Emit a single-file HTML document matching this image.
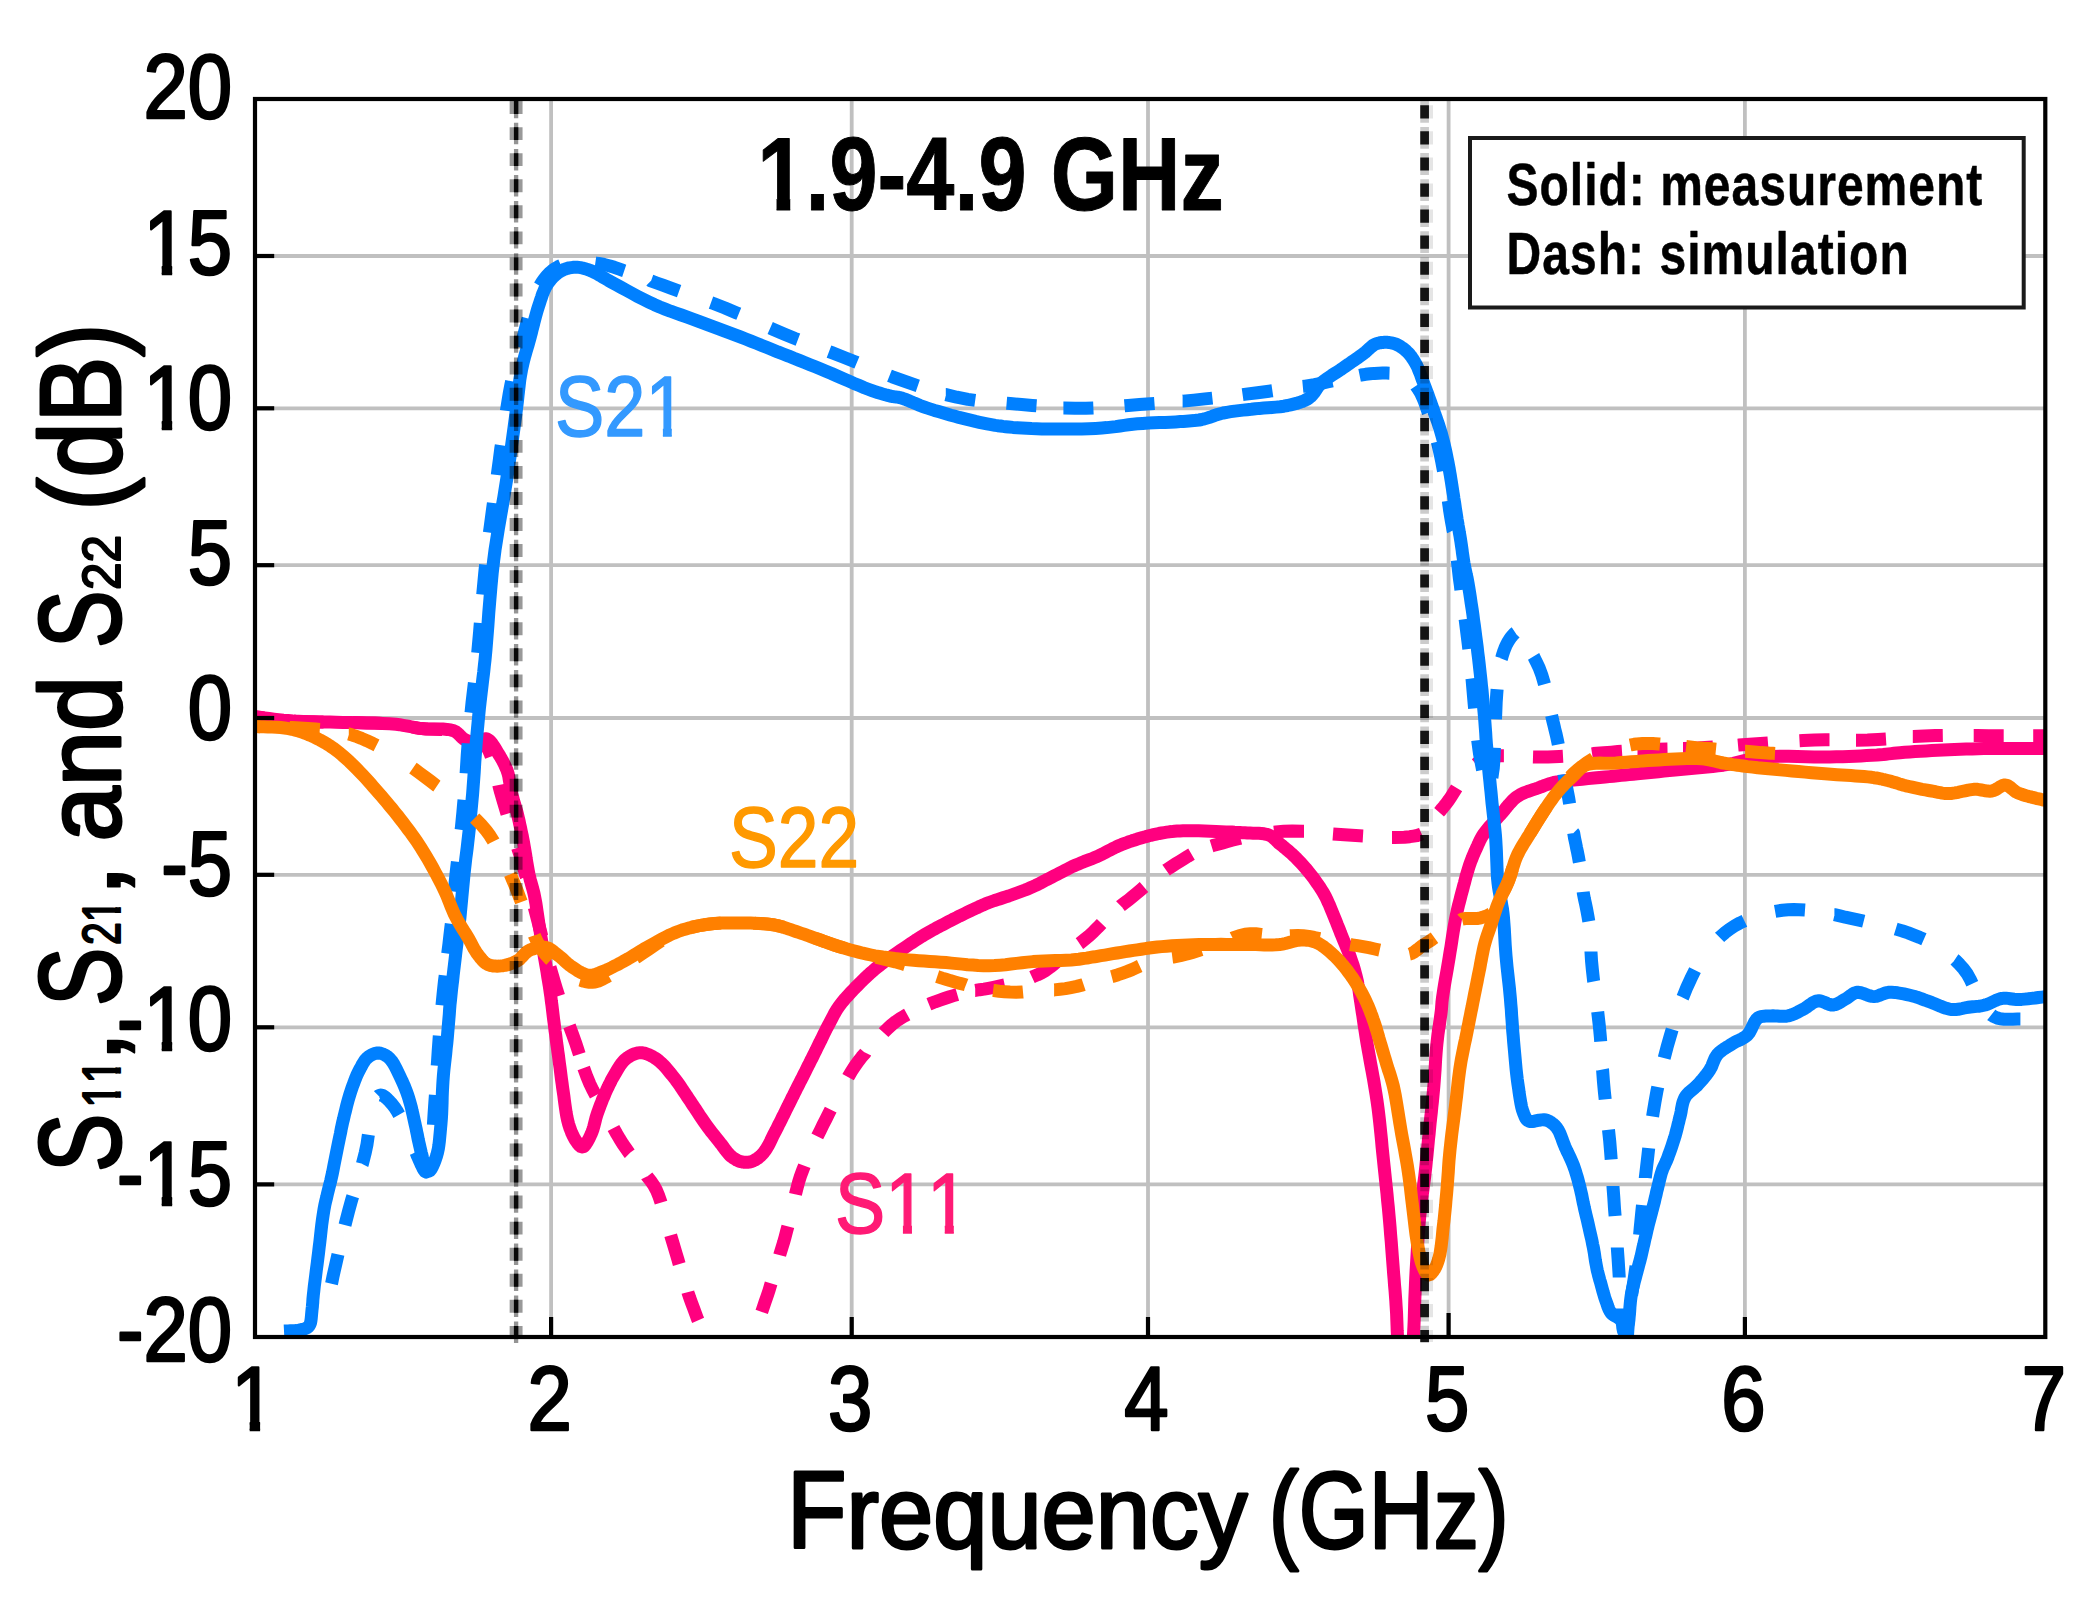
<!DOCTYPE html>
<html lang="en"><head><meta charset="utf-8"><title>S-parameters 1.9-4.9 GHz</title>
<style>html,body{margin:0;padding:0;background:#fff}body{width:2098px;height:1612px;overflow:hidden}svg{display:block}text{font-family:"Liberation Sans",sans-serif}</style>
</head><body>
<svg width="2098" height="1612" viewBox="0 0 2098 1612">
<rect x="0" y="0" width="2098" height="1612" fill="#ffffff"/>
<defs><clipPath id="plot"><rect x="255" y="99" width="1790.3" height="1238"/></clipPath></defs>
<g stroke="#c0c0c0" stroke-width="3.8" fill="none">
<line x1="551.1" y1="99" x2="551.1" y2="1337"/>
<line x1="851.7" y1="99" x2="851.7" y2="1337"/>
<line x1="1148" y1="99" x2="1148" y2="1337"/>
<line x1="1448.6" y1="99" x2="1448.6" y2="1337"/>
<line x1="1744.9" y1="99" x2="1744.9" y2="1337"/>
<line x1="255" y1="256" x2="2045.3" y2="256"/>
<line x1="255" y1="408.3" x2="2045.3" y2="408.3"/>
<line x1="255" y1="565.2" x2="2045.3" y2="565.2"/>
<line x1="255" y1="718" x2="2045.3" y2="718"/>
<line x1="255" y1="874.8" x2="2045.3" y2="874.8"/>
<line x1="255" y1="1027.3" x2="2045.3" y2="1027.3"/>
<line x1="255" y1="1184.4" x2="2045.3" y2="1184.4"/>
</g>
<g clip-path="url(#plot)" fill="none" stroke-width="13" stroke-linejoin="round">
<path d="M255.0,716.8 L257.4,717.1 L264.2,717.9M293.5,721.0 L295.6,721.2 L303.3,721.5 L311.2,721.7 L319.1,721.9 L323.5,721.9M353.0,722.6 L354.7,722.6 L366.8,722.9 L378.7,723.2 L383.0,723.4M412.2,727.0 L412.2,727.0 L416.7,727.9 L421.6,728.6 L427.6,729.1 L433.9,729.2 L440.3,729.4 L442.0,729.4M469.9,737.9 L470.0,738.0 L472.9,739.2 L476.0,740.2 L478.9,741.3 L481.7,742.6 L484.2,744.3 L486.6,746.9 L488.6,750.2 L490.3,754.0 L491.2,756.5M498.8,785.0 L499.1,786.6 L500.6,792.3 L502.7,799.5 L505.0,807.1 L507.0,813.8M517.6,847.7 L517.6,847.7 L519.5,853.6 L521.4,859.8 L523.6,867.5 L526.0,876.2 L526.1,876.4M534.3,907.3 L535.0,910.0 L537.4,919.4 L539.9,928.9 L541.8,936.3M550.0,967.2 L550.2,967.8 L552.4,975.4 L554.6,982.8 L556.8,990.1 L558.7,995.9M569.4,1025.9 L570.0,1027.4 L572.8,1034.9 L575.5,1042.6 L578.1,1050.6 L579.3,1054.2M583.7,1068.0 L584.2,1069.4 L587.0,1077.1 L589.9,1084.0 L592.8,1090.0 L595.7,1095.4M613.5,1128.0 L613.8,1128.6 L616.8,1134.0 L619.9,1139.3 L623.0,1144.2 L626.2,1148.8 L629.3,1153.2 L629.5,1153.4M647.1,1176.3 L647.2,1176.5 L650.6,1180.8 L653.8,1185.4 L656.5,1190.4 L658.8,1196.0 L660.8,1201.9 L661.0,1202.6M670.7,1235.3 L671.1,1236.7 L672.8,1242.3 L674.4,1247.8 L676.1,1253.5 L677.8,1259.2 L679.2,1264.1M687.9,1292.1 L688.2,1293.2 L689.8,1298.1 L691.6,1303.0 L693.5,1308.1 L695.6,1313.7 L697.7,1319.4 L698.1,1320.3M718.9,1351.4 L719.1,1351.5 L721.4,1352.8 L723.6,1353.9 L726.0,1354.6 L728.2,1355.0 L730.5,1354.9 L732.8,1354.4 L735.2,1353.6 L737.4,1352.4 L739.6,1351.0 L741.8,1349.3 L744.0,1347.1 L745.2,1345.8M761.7,1311.9 L762.5,1309.6 L765.0,1302.2 L767.2,1295.9 L769.0,1290.5 L770.5,1285.4 L771.1,1283.4M779.7,1255.2 L780.1,1253.7 L781.8,1248.2 L783.5,1242.7 L785.1,1237.0 L786.6,1231.2 L787.9,1226.3M795.5,1194.3 L795.8,1192.9 L797.2,1187.3 L798.7,1181.7 L800.5,1176.0 L802.6,1170.4 L804.4,1165.7M817.3,1136.4 L818.1,1134.8 L820.6,1129.8 L823.1,1124.7 L825.9,1119.2 L828.8,1113.4 L830.7,1109.6M848.1,1077.2 L848.7,1076.1 L851.7,1071.0 L854.9,1066.1 L858.2,1061.5 L861.6,1057.1 L865.2,1052.9 L865.3,1052.7M883.6,1032.7 L884.5,1031.7 L888.1,1028.1 L891.9,1024.6 L895.9,1021.5 L900.1,1018.6 L904.5,1016.0 L907.2,1014.5M928.9,1004.2 L930.4,1003.6 L935.1,1001.8 L939.9,1000.1 L944.5,998.5 L949.0,997.0 L953.5,995.6 L957.3,994.5M975.2,990.4 L975.5,990.4 L979.7,989.7 L984.1,989.1 L988.5,988.3 L993.6,987.3 L999.2,986.1 L1004.7,984.9M1032.0,977.1 L1033.3,976.5 L1037.5,974.8 L1041.6,972.8 L1045.9,970.3 L1050.0,967.3 L1054.1,964.1 L1057.3,961.4M1079.5,943.6 L1079.8,943.4 L1084.7,939.4 L1089.5,935.4 L1093.8,931.4 L1097.8,927.4 L1101.6,923.4M1120.7,905.9 L1120.9,905.7 L1124.8,902.8 L1128.7,899.8 L1132.6,896.7 L1136.7,893.3 L1140.9,889.7 L1144.0,887.0M1166.1,870.1 L1166.8,869.6 L1171.3,866.7 L1175.8,863.8 L1180.0,861.2 L1184.0,858.7 L1187.9,856.3 L1191.5,854.2M1211.5,846.0 L1212.8,845.6 L1217.8,844.2 L1222.8,842.9 L1227.5,841.6 L1231.9,840.3 L1236.2,839.2 L1240.5,838.1M1274.0,832.1 L1275.9,831.9 L1283.7,831.3 L1292.3,830.9 L1302.9,831.3 L1304.0,831.3M1333.0,833.9 L1336.8,834.2 L1348.0,835.0 L1359.6,835.7 L1363.0,835.9M1392.0,837.5 L1394.7,837.5 L1404.3,837.3 L1409.8,836.7 L1413.6,836.1 L1417.1,835.5 L1420.2,834.5 L1421.6,833.9M1439.1,812.2 L1439.9,811.3 L1442.0,808.7 L1444.2,806.1 L1446.3,803.4 L1448.5,800.5 L1451.0,796.9 L1453.5,792.9 L1456.0,788.9 L1456.6,787.9M1476.0,764.2 L1476.6,763.7 L1478.8,761.9 L1481.1,760.3 L1483.7,758.9 L1486.7,757.7 L1491.5,756.5 L1500.8,755.7 L1503.9,755.7M1533.0,756.9 L1536.3,757.0 L1548.0,757.0 L1559.3,756.4 L1563.0,756.2M1592.1,753.8 L1593.4,753.6 L1603.8,752.8 L1611.5,752.1 L1617.7,751.6 L1622.0,751.3M1637.5,750.1 L1637.7,750.1 L1646.5,749.7 L1657.0,749.3 L1667.5,749.1M1683.0,748.6 L1683.2,748.6 L1694.4,748.2 L1704.9,747.6 L1713.0,747.1M1738.0,745.1 L1739.1,745.0 L1749.5,744.2 L1760.5,743.5 L1768.0,742.9M1799.5,740.7 L1803.1,740.5 L1814.5,740.0 L1825.2,739.8 L1829.5,739.8M1856.0,740.2 L1856.9,740.2 L1867.5,740.1 L1878.1,739.6 L1886.0,739.1M1912.8,736.6 L1913.5,736.6 L1924.2,735.9 L1935.3,735.5 L1942.8,735.4M1973.7,735.6 L1977.4,735.6 L1988.7,735.7 L1999.4,735.7 L2003.7,735.7M2033.2,735.7 L2034.7,735.7 L2045.3,735.7" stroke="#ff007f"/>
<path d="M255.0,716.8 L259.7,717.3 L264.4,717.9 L269.1,718.5 L273.9,719.1 L278.6,719.6 L283.3,720.2 L288.1,720.6 L293.0,721.0 L298.2,721.3 L303.3,721.5 L308.5,721.7 L313.8,721.8 L319.1,721.9 L324.5,721.9 L330.1,722.0 L335.8,722.2 L343.0,722.4 L350.7,722.5 L358.7,722.7 L366.8,722.9 L374.8,723.1 L382.4,723.4 L389.5,723.8 L395.9,724.3 L399.6,724.7 L403.0,725.3 L406.2,725.8 L409.2,726.4 L412.2,727.0 L415.2,727.6 L418.3,728.2 L421.6,728.6 L425.6,728.9 L429.8,729.0 L434.2,729.0 L438.7,729.0 L443.0,729.1 L447.0,729.4 L450.7,729.9 L453.8,730.8 L455.5,731.6 L457.0,732.7 L458.4,733.9 L459.6,735.1 L460.8,736.4 L461.9,737.5 L463.2,738.6 L464.5,739.4 L465.8,740.0 L467.0,740.5 L468.3,741.0 L469.6,741.3 L471.0,741.6 L472.3,741.8 L473.6,742.0 L475.0,742.0 L476.5,741.8 L478.0,741.4 L479.5,740.7 L481.1,740.0 L482.6,739.4 L484.1,738.9 L485.6,738.8 L487.0,739.0 L488.7,739.9 L490.3,741.3 L491.8,743.1 L493.3,745.3 L494.8,747.6 L496.2,749.9 L497.5,752.2 L498.8,754.4 L500.1,756.4 L501.3,758.5 L502.5,760.6 L503.6,762.7 L504.6,764.8 L505.6,767.0 L506.6,769.2 L507.4,771.5 L508.2,774.0 L508.8,776.6 L509.2,779.3 L509.7,782.1 L510.1,784.8 L510.5,787.6 L510.9,790.3 L511.5,793.0 L512.2,795.7 L512.9,798.3 L513.6,800.9 L514.4,803.5 L515.2,806.2 L516.0,808.8 L516.8,811.6 L517.5,814.4 L518.3,817.7 L519.1,821.1 L519.8,824.5 L520.6,828.0 L521.3,831.5 L522.1,835.1 L522.8,838.7 L523.5,842.3 L524.2,846.3 L524.9,850.3 L525.6,854.5 L526.2,858.7 L526.9,862.8 L527.6,866.9 L528.3,870.8 L529.0,874.5 L529.7,877.4 L530.3,880.1 L531.1,882.7 L531.8,885.3 L532.5,887.8 L533.2,890.4 L533.9,893.1 L534.5,896.0 L535.2,899.7 L535.9,903.5 L536.5,907.5 L537.1,911.6 L537.7,915.7 L538.3,919.8 L538.9,923.9 L539.5,928.0 L540.2,932.0 L540.8,936.1 L541.5,940.1 L542.2,944.1 L542.9,948.2 L543.6,952.2 L544.3,956.3 L545.0,960.3 L545.7,964.4 L546.4,968.4 L547.1,972.5 L547.7,976.6 L548.4,980.7 L549.1,984.8 L549.7,988.9 L550.3,993.0 L550.9,997.2 L551.4,1001.5 L552.0,1005.7 L552.5,1010.0 L553.0,1014.3 L553.5,1018.5 L554.1,1022.8 L554.6,1027.0 L555.1,1031.1 L555.7,1035.1 L556.2,1039.2 L556.7,1043.2 L557.3,1047.2 L557.8,1051.2 L558.4,1055.3 L558.9,1059.3 L559.4,1063.3 L560.0,1067.4 L560.5,1071.4 L561.0,1075.4 L561.5,1079.4 L562.1,1083.5 L562.6,1087.5 L563.2,1091.5 L563.8,1095.6 L564.3,1099.8 L564.9,1104.1 L565.5,1108.3 L566.1,1112.4 L566.8,1116.4 L567.6,1120.2 L568.5,1123.7 L569.3,1126.2 L570.1,1128.7 L571.0,1131.0 L571.9,1133.3 L572.9,1135.4 L573.9,1137.4 L574.9,1139.3 L576.0,1140.9 L576.8,1142.0 L577.5,1143.1 L578.4,1144.1 L579.2,1145.1 L580.0,1145.9 L580.8,1146.5 L581.7,1146.9 L582.5,1147.0 L583.6,1146.6 L584.7,1145.6 L585.8,1144.2 L586.9,1142.4 L588.0,1140.5 L589.1,1138.4 L590.1,1136.4 L591.0,1134.4 L592.0,1132.0 L592.9,1129.5 L593.7,1126.9 L594.4,1124.1 L595.1,1121.3 L595.8,1118.5 L596.6,1115.7 L597.5,1113.0 L598.5,1110.3 L599.5,1107.5 L600.5,1104.8 L601.6,1102.1 L602.6,1099.3 L603.8,1096.7 L604.9,1094.0 L606.0,1091.5 L607.0,1089.2 L608.1,1087.0 L609.1,1084.8 L610.2,1082.7 L611.2,1080.6 L612.3,1078.5 L613.5,1076.4 L614.7,1074.4 L615.9,1072.4 L617.1,1070.3 L618.3,1068.2 L619.6,1066.2 L620.9,1064.3 L622.3,1062.5 L623.8,1060.8 L625.4,1059.3 L627.0,1058.0 L628.7,1056.9 L630.5,1055.8 L632.4,1054.8 L634.2,1054.0 L636.2,1053.3 L638.1,1052.9 L640.0,1052.7 L642.0,1052.8 L644.1,1053.1 L646.2,1053.7 L648.3,1054.5 L650.4,1055.4 L652.5,1056.5 L654.5,1057.7 L656.5,1059.0 L658.8,1060.7 L661.0,1062.7 L663.3,1064.9 L665.4,1067.2 L667.6,1069.7 L669.6,1072.3 L671.7,1074.8 L673.7,1077.3 L675.7,1079.8 L677.6,1082.4 L679.5,1085.1 L681.3,1087.7 L683.1,1090.5 L685.0,1093.2 L686.8,1096.0 L688.7,1098.8 L690.8,1101.9 L692.9,1105.2 L695.1,1108.4 L697.3,1111.8 L699.4,1115.1 L701.6,1118.3 L703.8,1121.5 L705.9,1124.5 L707.8,1127.1 L709.7,1129.7 L711.6,1132.2 L713.6,1134.6 L715.5,1137.0 L717.3,1139.3 L719.1,1141.6 L720.9,1143.8 L722.3,1145.6 L723.6,1147.4 L724.9,1149.2 L726.2,1150.9 L727.5,1152.5 L728.8,1154.0 L730.2,1155.5 L731.6,1156.7 L732.9,1157.7 L734.2,1158.5 L735.5,1159.3 L736.8,1160.1 L738.2,1160.7 L739.5,1161.3 L740.9,1161.7 L742.3,1162.0 L743.6,1162.2 L745.0,1162.3 L746.3,1162.3 L747.7,1162.3 L749.0,1162.1 L750.4,1161.8 L751.7,1161.5 L753.0,1161.0 L754.4,1160.3 L755.8,1159.5 L757.2,1158.6 L758.6,1157.6 L760.0,1156.4 L761.3,1155.2 L762.6,1153.8 L763.8,1152.4 L765.3,1150.4 L766.7,1148.2 L768.1,1145.9 L769.4,1143.4 L770.7,1140.8 L771.9,1138.2 L773.2,1135.5 L774.5,1133.0 L775.9,1130.4 L777.2,1127.8 L778.5,1125.1 L779.9,1122.4 L781.2,1119.8 L782.5,1117.1 L783.9,1114.4 L785.2,1111.7 L786.5,1109.0 L787.9,1106.3 L789.2,1103.6 L790.6,1100.8 L791.9,1098.1 L793.3,1095.4 L794.6,1092.7 L796.0,1090.0 L797.3,1087.3 L798.7,1084.7 L800.0,1082.0 L801.4,1079.4 L802.7,1076.8 L804.0,1074.1 L805.4,1071.5 L806.7,1068.8 L808.0,1066.1 L809.4,1063.4 L810.7,1060.7 L812.1,1058.1 L813.4,1055.4 L814.7,1052.7 L816.1,1050.0 L817.4,1047.3 L818.7,1044.6 L820.0,1041.9 L821.4,1039.2 L822.7,1036.5 L824.0,1033.8 L825.3,1031.2 L826.6,1028.5 L828.0,1025.9 L829.3,1023.4 L830.6,1020.9 L831.9,1018.4 L833.2,1016.0 L834.5,1013.5 L835.9,1011.2 L837.3,1008.8 L838.8,1006.6 L840.3,1004.6 L841.8,1002.6 L843.4,1000.7 L845.0,998.8 L846.6,997.0 L848.3,995.2 L850.0,993.3 L851.7,991.5 L853.5,989.6 L855.3,987.7 L857.2,985.8 L859.1,983.9 L861.0,982.0 L862.9,980.1 L864.8,978.3 L866.7,976.5 L868.5,974.8 L870.3,973.2 L872.1,971.6 L874.0,970.0 L875.8,968.4 L877.7,966.9 L879.7,965.3 L881.7,963.7 L884.2,961.8 L886.8,959.9 L889.4,958.0 L892.2,956.1 L894.9,954.2 L897.7,952.3 L900.5,950.4 L903.2,948.6 L905.9,946.8 L908.5,945.0 L911.2,943.2 L913.9,941.5 L916.5,939.7 L919.2,938.0 L921.9,936.3 L924.6,934.7 L927.3,933.1 L929.9,931.6 L932.6,930.1 L935.3,928.7 L937.9,927.2 L940.6,925.8 L943.3,924.4 L946.0,923.0 L948.7,921.6 L951.4,920.2 L954.0,918.8 L956.7,917.5 L959.4,916.1 L962.1,914.8 L964.8,913.5 L967.5,912.2 L970.2,910.9 L972.8,909.7 L975.5,908.4 L978.2,907.2 L980.9,905.9 L983.6,904.7 L986.3,903.6 L989.0,902.5 L991.8,901.5 L994.6,900.5 L997.4,899.6 L1000.2,898.7 L1003.0,897.8 L1005.8,896.9 L1008.6,896.0 L1011.4,895.0 L1014.1,894.0 L1016.9,893.0 L1019.6,892.0 L1022.3,891.0 L1025.0,890.0 L1027.7,888.9 L1030.3,887.8 L1033.0,886.6 L1035.7,885.4 L1038.4,884.1 L1041.0,882.7 L1043.7,881.3 L1046.3,879.9 L1049.0,878.6 L1051.6,877.2 L1054.3,875.8 L1057.0,874.4 L1059.7,873.0 L1062.3,871.7 L1065.0,870.3 L1067.7,868.9 L1070.4,867.5 L1073.1,866.2 L1075.8,865.0 L1078.5,863.9 L1081.2,862.8 L1083.9,861.7 L1086.6,860.7 L1089.3,859.7 L1091.9,858.7 L1094.6,857.6 L1097.3,856.5 L1100.0,855.2 L1102.7,853.9 L1105.3,852.5 L1108.0,851.1 L1110.7,849.7 L1113.3,848.3 L1116.0,847.0 L1118.7,845.8 L1121.3,844.7 L1124.0,843.7 L1126.6,842.7 L1129.3,841.7 L1132.0,840.8 L1134.6,840.0 L1137.3,839.1 L1140.0,838.3 L1142.7,837.5 L1145.4,836.8 L1148.1,836.0 L1150.8,835.3 L1153.5,834.7 L1156.2,834.1 L1158.9,833.5 L1161.6,833.0 L1164.2,832.6 L1166.8,832.2 L1169.3,831.8 L1171.8,831.6 L1174.4,831.3 L1177.1,831.1 L1180.0,830.9 L1183.0,830.8 L1187.8,830.7 L1193.0,830.7 L1198.7,830.8 L1204.5,831.0 L1210.3,831.2 L1215.9,831.5 L1221.2,831.7 L1226.0,831.9 L1229.0,832.0 L1231.9,832.1 L1234.6,832.3 L1237.2,832.4 L1239.7,832.5 L1242.2,832.7 L1244.8,832.8 L1247.4,833.0 L1250.1,833.1 L1253.0,833.2 L1255.8,833.3 L1258.7,833.3 L1261.4,833.5 L1264.1,833.8 L1266.5,834.3 L1268.8,835.0 L1270.4,835.8 L1271.9,836.7 L1273.2,837.7 L1274.5,838.8 L1275.7,840.0 L1276.9,841.2 L1278.2,842.5 L1279.6,843.7 L1281.4,845.1 L1283.2,846.6 L1285.1,848.1 L1287.0,849.7 L1288.9,851.3 L1290.8,853.0 L1292.7,854.7 L1294.6,856.5 L1296.8,858.7 L1299.0,861.0 L1301.2,863.3 L1303.4,865.8 L1305.6,868.3 L1307.7,870.8 L1309.7,873.3 L1311.7,875.8 L1313.5,878.1 L1315.2,880.5 L1316.9,882.9 L1318.6,885.3 L1320.2,887.7 L1321.7,890.1 L1323.2,892.5 L1324.6,895.0 L1325.9,897.4 L1327.0,899.8 L1328.1,902.2 L1329.2,904.6 L1330.2,907.0 L1331.2,909.4 L1332.2,911.9 L1333.2,914.4 L1334.3,917.0 L1335.4,919.7 L1336.5,922.4 L1337.5,925.1 L1338.6,927.8 L1339.7,930.5 L1340.7,933.2 L1341.8,935.9 L1342.9,938.6 L1344.0,941.2 L1345.1,943.9 L1346.2,946.6 L1347.3,949.2 L1348.4,951.9 L1349.4,954.6 L1350.4,957.3 L1351.3,960.0 L1352.2,962.6 L1353.1,965.2 L1353.9,967.9 L1354.7,970.6 L1355.4,973.3 L1356.1,976.0 L1356.8,978.8 L1357.5,981.8 L1358.0,984.9 L1358.6,987.9 L1359.1,991.0 L1359.5,994.2 L1360.0,997.4 L1360.5,1000.7 L1361.0,1004.0 L1361.6,1008.0 L1362.2,1012.1 L1362.9,1016.3 L1363.5,1020.6 L1364.1,1024.9 L1364.8,1029.1 L1365.4,1033.1 L1366.0,1037.0 L1366.5,1040.1 L1367.0,1043.1 L1367.5,1046.0 L1368.0,1048.8 L1368.5,1051.6 L1369.0,1054.4 L1369.5,1057.2 L1370.0,1060.0 L1370.5,1062.8 L1371.0,1065.5 L1371.5,1068.2 L1372.0,1070.9 L1372.5,1073.6 L1373.0,1076.4 L1373.5,1079.2 L1374.0,1082.0 L1374.5,1085.1 L1375.0,1088.1 L1375.5,1091.2 L1376.0,1094.3 L1376.5,1097.5 L1377.0,1100.8 L1377.5,1104.3 L1378.0,1108.0 L1378.7,1113.7 L1379.4,1119.8 L1380.1,1126.4 L1380.8,1133.1 L1381.5,1140.0 L1382.1,1147.0 L1382.8,1153.9 L1383.5,1160.6 L1384.2,1167.3 L1384.9,1173.9 L1385.6,1180.6 L1386.3,1187.3 L1387.0,1193.9 L1387.6,1200.6 L1388.3,1207.3 L1388.9,1214.0 L1389.5,1220.7 L1390.1,1227.6 L1390.6,1234.4 L1391.2,1241.2 L1391.7,1248.0 L1392.2,1254.7 L1392.7,1261.3 L1393.2,1267.7 L1393.6,1273.4 L1394.1,1279.0 L1394.5,1284.7 L1395.0,1290.2 L1395.4,1295.6 L1395.8,1300.8 L1396.1,1305.8 L1396.4,1310.5 L1396.6,1313.7 L1396.7,1316.6 L1396.8,1319.4 L1396.9,1322.1 L1397.0,1324.8 L1397.1,1327.6 L1397.2,1330.6 L1397.4,1334.0 L1397.7,1340.0 L1398.1,1346.7 L1398.5,1354.0 L1398.9,1361.6 L1399.4,1369.2 L1399.9,1376.7 L1400.4,1383.7 L1401.0,1390.0 L1401.4,1394.6 L1401.9,1399.6 L1402.4,1404.6 L1402.9,1409.3 L1403.4,1413.6 L1404.0,1416.9 L1404.5,1419.2 L1405.0,1420.0 L1405.5,1419.2 L1406.0,1416.9 L1406.5,1413.6 L1407.0,1409.3 L1407.5,1404.6 L1408.0,1399.6 L1408.5,1394.6 L1409.0,1390.0 L1409.6,1383.8 L1410.3,1377.2 L1410.9,1370.3 L1411.5,1363.1 L1412.0,1355.8 L1412.6,1348.4 L1413.1,1341.1 L1413.5,1334.0 L1413.9,1327.1 L1414.2,1320.2 L1414.4,1313.3 L1414.6,1306.4 L1414.8,1299.5 L1415.1,1292.6 L1415.4,1285.5 L1415.7,1278.4 L1416.1,1270.5 L1416.6,1262.3 L1417.1,1254.0 L1417.6,1245.7 L1418.1,1237.4 L1418.7,1229.3 L1419.3,1221.4 L1420.0,1214.0 L1420.6,1208.2 L1421.2,1202.7 L1421.9,1197.3 L1422.6,1192.1 L1423.3,1186.9 L1424.0,1181.8 L1424.7,1176.6 L1425.3,1171.3 L1425.9,1166.0 L1426.4,1160.6 L1427.0,1155.3 L1427.5,1149.9 L1428.0,1144.6 L1428.5,1139.2 L1429.1,1133.9 L1429.6,1128.5 L1430.1,1123.2 L1430.7,1117.8 L1431.3,1112.5 L1431.8,1107.1 L1432.4,1101.8 L1432.9,1096.4 L1433.4,1091.1 L1433.9,1085.7 L1434.3,1080.3 L1434.7,1074.8 L1435.1,1069.3 L1435.4,1063.9 L1435.7,1058.4 L1436.1,1053.1 L1436.5,1047.9 L1437.0,1042.8 L1437.5,1038.5 L1438.0,1034.1 L1438.6,1029.8 L1439.3,1025.5 L1439.8,1021.4 L1440.4,1017.6 L1440.9,1014.0 L1441.3,1010.7 L1441.5,1008.9 L1441.6,1007.4 L1441.7,1006.0 L1441.8,1004.6 L1441.9,1003.3 L1442.0,1001.8 L1442.2,1000.2 L1442.4,998.4 L1443.0,994.4 L1443.7,989.8 L1444.5,984.8 L1445.4,979.4 L1446.4,973.8 L1447.4,968.2 L1448.3,962.7 L1449.2,957.4 L1450.0,952.2 L1450.9,947.0 L1451.7,941.7 L1452.5,936.4 L1453.3,931.2 L1454.2,926.1 L1455.1,921.2 L1456.0,916.5 L1456.8,912.8 L1457.6,909.2 L1458.4,905.7 L1459.3,902.3 L1460.2,898.9 L1461.0,895.6 L1461.9,892.3 L1462.8,889.0 L1463.6,885.8 L1464.5,882.7 L1465.3,879.5 L1466.1,876.4 L1467.0,873.3 L1467.9,870.3 L1468.8,867.4 L1469.7,864.6 L1470.5,862.3 L1471.3,860.2 L1472.2,858.0 L1473.0,855.9 L1473.9,853.9 L1474.7,851.9 L1475.6,850.0 L1476.5,848.0 L1477.3,846.3 L1478.0,844.6 L1478.8,842.9 L1479.5,841.3 L1480.3,839.7 L1481.2,838.0 L1482.2,836.3 L1483.3,834.6 L1485.0,832.2 L1487.0,829.6 L1489.2,827.0 L1491.6,824.4 L1494.0,821.7 L1496.4,819.1 L1498.7,816.5 L1501.0,814.0 L1503.0,811.7 L1505.0,809.3 L1506.9,806.9 L1508.9,804.5 L1510.9,802.3 L1512.9,800.1 L1515.1,798.2 L1517.4,796.4 L1519.8,794.9 L1522.3,793.7 L1524.9,792.5 L1527.6,791.5 L1530.3,790.6 L1533.0,789.7 L1535.5,788.9 L1538.0,788.0 L1540.0,787.2 L1542.0,786.5 L1543.9,785.7 L1545.8,785.0 L1547.7,784.3 L1549.5,783.7 L1551.3,783.2 L1553.0,782.7 L1554.2,782.4 L1555.3,782.2 L1556.3,782.0 L1557.3,781.9 L1558.4,781.8 L1559.5,781.6 L1560.8,781.5 L1562.3,781.3 L1566.2,780.8 L1570.9,780.3 L1576.3,779.8 L1582.1,779.2 L1588.1,778.6 L1594.0,778.1 L1599.7,777.5 L1605.0,777.0 L1609.2,776.6 L1613.3,776.2 L1617.3,775.8 L1621.2,775.4 L1625.1,775.0 L1629.1,774.6 L1633.2,774.2 L1637.4,773.8 L1642.5,773.3 L1647.7,772.8 L1653.0,772.2 L1658.5,771.7 L1663.9,771.1 L1669.4,770.6 L1674.9,770.0 L1680.3,769.5 L1685.7,769.0 L1691.0,768.5 L1696.4,768.1 L1701.8,767.6 L1707.2,767.1 L1712.5,766.6 L1717.9,765.9 L1723.2,765.2 L1728.4,764.3 L1733.5,763.3 L1738.5,762.1 L1743.5,760.9 L1748.7,759.7 L1753.9,758.6 L1759.3,757.7 L1765.0,757.0 L1772.5,756.5 L1780.5,756.3 L1788.8,756.3 L1797.2,756.5 L1805.7,756.7 L1814.1,756.9 L1822.3,757.0 L1830.0,757.0 L1836.4,756.8 L1842.7,756.7 L1848.9,756.5 L1855.0,756.2 L1860.9,755.9 L1866.6,755.6 L1872.0,755.3 L1877.0,755.0 L1880.2,754.7 L1883.2,754.5 L1885.9,754.2 L1888.6,753.9 L1891.2,753.6 L1893.9,753.3 L1896.8,753.0 L1900.0,752.7 L1904.7,752.3 L1909.8,752.0 L1915.1,751.6 L1920.5,751.2 L1926.1,750.9 L1931.8,750.6 L1937.4,750.3 L1943.0,750.0 L1948.7,749.7 L1954.5,749.5 L1960.3,749.3 L1966.1,749.1 L1972.0,748.9 L1977.9,748.7 L1983.9,748.6 L1990.0,748.5 L1996.7,748.4 L2003.5,748.4 L2010.4,748.4 L2017.4,748.4 L2024.4,748.4 L2031.4,748.5 L2038.4,748.5 L2045.3,748.5" stroke="#ff007f"/>
<path d="M331.5,1283.7 L331.8,1282.4 L332.9,1276.9 L334.2,1271.1 L336.1,1262.7 L338.0,1254.4M345.0,1225.1 L345.8,1221.9 L348.7,1210.6 L351.9,1199.0 L352.8,1196.2M362.3,1164.0 L362.4,1163.8 L365.2,1152.9 L367.0,1144.3 L368.1,1136.6 L368.4,1134.7M378.6,1095.8 L378.7,1095.7 L380.6,1094.9 L382.7,1095.5 L385.0,1097.0 L387.5,1099.2 L389.8,1101.6 L392.0,1104.0 L394.5,1107.2 L396.9,1110.8 L399.1,1114.7M415.8,1152.0 L416.0,1152.4 L417.5,1156.3 L419.0,1159.8 L420.4,1162.8 L421.5,1165.3 L422.7,1167.8 L423.9,1170.0 L425.0,1171.5 L426.0,1172.0 L427.2,1170.6 L428.2,1167.2 L428.6,1165.5M433.4,1124.9 L433.5,1123.3 L434.1,1113.3 L434.8,1103.3 L435.4,1095.0M437.2,1065.8 L437.5,1062.1 L438.2,1050.8 L439.0,1040.0 L439.3,1035.8M442.0,1005.4 L442.2,1003.0 L443.0,995.0 L443.7,988.2 L444.4,981.7 L445.2,975.5M447.7,953.7 L447.9,952.2 L448.9,944.2 L449.8,936.1 L450.8,927.9 L451.3,923.9M454.3,891.6 L454.5,890.1 L455.2,882.1 L456.0,874.0 L456.9,865.9 L457.4,861.8M461.1,829.8 L461.3,828.3 L462.1,820.3 L462.9,812.2 L463.6,804.1 L464.0,799.9M466.1,773.4 L466.2,771.9 L466.7,763.8 L467.2,755.7 L467.8,747.7 L468.1,743.4M471.0,712.7 L471.2,710.9 L472.0,703.0 L472.9,695.2 L473.8,687.7 L474.4,682.9M477.7,652.9 L478.0,649.5 L479.6,631.8 L480.3,623.0M482.7,594.6 L482.9,592.7 L484.7,573.3 L485.6,564.7M489.4,532.7 L490.0,528.5 L492.1,512.6 L493.4,503.0M497.3,475.0 L497.6,472.7 L499.3,460.1 L500.9,447.7 L501.3,445.2M506.4,410.8 L506.5,410.1 L507.9,401.5 L509.3,393.2 L510.8,385.2 L511.6,381.2M520.2,347.5 L520.7,345.9 L522.4,340.0 L524.1,333.9 L525.7,327.5 L527.3,321.1 L528.0,318.5M539.7,285.8 L539.7,285.8 L542.0,282.0 L544.3,278.9 L546.7,276.0 L549.3,273.2 L552.0,270.8 L555.0,268.6 L558.1,266.8 L561.0,265.5M595.3,263.0 L596.0,263.1 L598.8,263.5 L601.5,264.0 L604.2,264.5 L607.0,265.2 L610.0,266.0 L614.3,267.3 L618.8,268.9 L623.6,270.7 L624.2,270.9M650.9,280.8 L651.0,280.9 L656.7,283.0 L662.8,285.2 L671.5,288.4 L679.1,291.1M711.0,302.6 L713.5,303.5 L725.0,308.0 L736.1,312.7 L738.8,313.8M770.2,328.0 L772.9,329.2 L784.0,334.0 L795.0,338.5 L797.9,339.6M829.0,351.6 L831.9,352.7 L843.0,357.0 L854.3,361.5 L856.9,362.6M889.5,375.7 L892.3,376.8 L903.6,380.9 L914.3,384.6 L917.8,385.8M945.8,394.6 L946.0,394.6 L956.8,397.2 L967.9,399.4 L975.2,400.4M1006.6,403.3 L1010.2,403.6 L1021.6,404.5 L1032.3,405.5 L1036.5,405.8M1063.4,407.9 L1064.1,407.9 L1074.8,408.3 L1085.9,408.2 L1093.4,407.9M1124.5,405.7 L1128.1,405.4 L1139.5,404.5 L1150.5,403.7 L1154.5,403.4M1182.6,401.1 L1183.0,401.1 L1193.9,400.1 L1205.0,398.9 L1212.4,398.1M1242.6,394.6 L1246.2,394.1 L1257.5,392.7 L1269.0,391.2 L1272.4,390.7M1302.8,386.4 L1303.9,386.3 L1314.4,384.6 L1322.2,383.1 L1328.6,381.7 L1332.3,380.9M1359.6,375.3 L1361.1,375.0 L1365.6,374.3 L1370.1,373.8 L1374.5,373.4 L1378.5,373.2 L1382.5,373.1 L1386.4,373.1 L1389.5,373.2M1415.9,385.8 L1416.1,386.1 L1417.8,388.5 L1419.5,391.1 L1421.2,394.2 L1422.8,397.7 L1424.3,401.4 L1425.7,405.3 L1427.1,409.3 L1428.3,412.9M1437.2,441.7 L1437.3,441.8 L1438.5,446.7 L1439.6,451.6 L1440.7,456.5 L1441.7,461.4 L1442.6,466.2 L1443.5,471.0M1448.3,500.8 L1448.3,500.8 L1449.0,505.9 L1449.7,511.0 L1450.5,516.0 L1451.3,520.8 L1452.2,525.5 L1453.0,530.2 L1453.1,530.4M1457.3,560.2 L1457.5,561.9 L1458.4,569.8 L1459.3,577.8 L1460.4,585.7 L1460.9,590.0M1465.1,619.2 L1465.3,620.6 L1466.3,628.7 L1467.3,636.7 L1468.3,644.8 L1468.8,649.0M1471.9,678.4 L1472.1,679.8 L1472.8,688.0 L1473.5,696.1 L1474.2,704.1 L1474.6,708.3M1477.7,740.3 L1477.8,741.1 L1478.7,747.9 L1479.5,753.5 L1480.4,758.5 L1481.3,763.4 L1482.2,768.1 L1482.6,769.9M1491.9,777.6 L1492.0,777.0 L1492.6,772.7 L1493.3,768.0 L1493.8,761.2 L1494.2,753.7 L1494.4,747.8M1495.5,719.3 L1495.6,717.2 L1495.9,709.4 L1496.2,701.8 L1496.7,694.5 L1497.1,689.3M1501.4,658.7 L1501.6,658.2 L1502.5,655.0 L1503.5,651.9 L1504.6,649.0 L1505.7,646.3 L1506.9,643.8 L1508.2,641.4 L1509.6,639.2 L1511.0,637.2 L1512.4,635.6 L1513.7,634.2 L1515.0,632.9 L1515.3,632.7M1533.6,656.4 L1533.9,656.9 L1535.2,659.7 L1536.6,662.4 L1537.9,665.2 L1539.2,668.0 L1540.4,671.2 L1541.7,674.7 L1542.8,678.3 L1543.9,682.1 L1544.5,684.3M1551.6,715.3 L1551.6,715.3 L1552.7,720.3 L1553.9,725.1 L1555.0,729.9 L1556.2,734.7 L1557.3,739.6 L1558.3,744.5M1563.9,774.2 L1564.0,775.0 L1565.0,779.8 L1565.9,784.4 L1566.9,788.9 L1567.8,793.5 L1568.7,798.3 L1569.6,803.7M1573.6,832.9 L1573.7,833.0 L1574.6,838.3 L1575.6,843.0 L1576.5,847.6 L1577.5,852.1 L1578.4,856.8 L1579.3,861.8 L1579.4,862.3M1583.2,891.9 L1583.3,893.0 L1584.4,898.9 L1585.7,904.7 L1586.9,910.6 L1588.0,916.7 L1588.8,921.4M1591.0,951.5 L1591.0,952.2 L1591.5,960.7 L1592.4,970.0 L1593.6,980.9 L1593.7,981.4M1597.7,1011.7 L1598.1,1015.3 L1599.4,1026.6 L1600.4,1037.5 L1600.7,1041.5M1602.5,1069.5 L1602.6,1070.0 L1603.4,1080.9 L1604.4,1092.0 L1605.2,1099.4M1608.5,1129.7 L1608.5,1129.7 L1609.7,1140.9 L1610.6,1151.7 L1611.2,1159.6M1613.0,1186.0 L1613.0,1186.8 L1613.8,1197.4 L1614.5,1208.6 L1615.1,1216.0M1617.3,1247.5 L1617.3,1247.9 L1618.1,1259.0 L1618.7,1268.3 L1619.2,1276.7 L1619.2,1277.5M1621.3,1308.5 L1621.3,1309.0 L1621.8,1315.7 L1622.3,1322.2 L1622.8,1327.7 L1623.5,1331.2 L1624.3,1331.9 L1625.1,1329.7 L1626.0,1326.2M1631.6,1295.5 L1631.6,1295.3 L1632.5,1289.5 L1633.4,1283.8 L1634.3,1278.1 L1635.1,1272.5 L1635.9,1266.9 L1636.0,1265.9M1639.6,1234.9 L1639.7,1233.8 L1640.2,1228.2 L1640.8,1222.1 L1641.6,1213.8 L1642.5,1205.1M1645.3,1177.9 L1645.3,1177.8 L1646.6,1166.7 L1647.9,1155.4 L1648.7,1148.1M1652.6,1116.5 L1653.1,1113.1 L1655.0,1101.7 L1657.0,1090.7 L1657.8,1087.0M1664.2,1058.2 L1664.2,1058.2 L1667.0,1047.3 L1670.2,1036.1 L1672.2,1029.3M1682.7,997.6 L1682.8,997.4 L1687.0,986.9 L1690.7,978.9 L1694.1,972.0 L1695.0,970.2M1719.6,937.4 L1720.4,936.6 L1725.0,932.7 L1729.7,929.1 L1734.6,925.9 L1739.8,923.0 L1744.4,920.8M1775.1,911.4 L1776.8,911.1 L1782.4,910.3 L1788.1,909.8 L1793.7,909.6 L1799.4,909.7 L1805.0,910.1M1834.4,914.7 L1834.5,914.7 L1839.9,915.9 L1845.3,917.2 L1850.9,918.4 L1856.7,919.7 L1862.5,920.9 L1863.7,921.2M1895.7,929.0 L1897.0,929.4 L1902.6,931.0 L1908.2,932.9 L1913.8,935.1 L1919.6,937.4 L1923.9,939.3M1954.8,959.7 L1955.1,959.9 L1959.6,964.4 L1963.7,969.1 L1967.2,973.9 L1970.1,979.1 L1972.3,983.8M1991.3,1014.9 L1991.8,1015.3 L1993.6,1016.4 L1995.4,1017.3 L1997.5,1018.1 L2000.2,1018.8 L2004.0,1019.2 L2008.3,1019.3 L2012.9,1019.2 L2017.5,1019.0 L2020.4,1019.0" stroke="#0080ff"/>
<path d="M284.0,1331.0 L286.0,1330.9 L288.1,1330.9 L290.2,1330.8 L292.3,1330.8 L294.4,1330.7 L296.4,1330.6 L298.2,1330.3 L300.0,1330.0 L301.3,1329.7 L302.6,1329.4 L303.9,1329.0 L305.1,1328.6 L306.2,1328.2 L307.2,1327.6 L308.2,1326.9 L309.0,1326.0 L309.8,1324.6 L310.5,1322.8 L310.9,1320.9 L311.2,1318.7 L311.4,1316.5 L311.6,1314.2 L311.8,1312.1 L312.0,1310.0 L312.2,1308.2 L312.4,1306.5 L312.5,1304.8 L312.7,1303.1 L312.8,1301.3 L312.9,1299.5 L313.1,1297.5 L313.3,1295.3 L313.8,1291.0 L314.3,1286.1 L315.0,1280.9 L315.7,1275.2 L316.4,1269.5 L317.2,1263.6 L317.9,1257.9 L318.6,1252.4 L319.2,1247.0 L319.9,1241.5 L320.5,1236.0 L321.1,1230.5 L321.7,1225.1 L322.4,1219.8 L323.2,1214.6 L324.0,1209.5 L324.8,1205.2 L325.7,1201.1 L326.7,1197.1 L327.6,1193.1 L328.6,1189.2 L329.6,1185.2 L330.6,1181.3 L331.5,1177.3 L332.4,1173.3 L333.2,1169.2 L334.0,1165.1 L334.8,1161.1 L335.6,1157.0 L336.4,1153.0 L337.2,1149.0 L338.0,1145.0 L338.8,1141.2 L339.6,1137.3 L340.4,1133.5 L341.1,1129.7 L341.9,1125.9 L342.7,1122.2 L343.6,1118.6 L344.4,1115.0 L345.2,1111.9 L345.9,1108.9 L346.6,1105.9 L347.4,1103.0 L348.2,1100.1 L349.0,1097.2 L349.9,1094.3 L350.8,1091.5 L351.7,1088.7 L352.7,1085.9 L353.8,1083.1 L354.8,1080.3 L355.9,1077.5 L357.0,1074.9 L358.2,1072.4 L359.4,1070.0 L360.4,1068.1 L361.4,1066.3 L362.3,1064.5 L363.4,1062.8 L364.4,1061.2 L365.5,1059.7 L366.7,1058.4 L368.0,1057.2 L369.2,1056.3 L370.5,1055.5 L371.8,1054.8 L373.2,1054.1 L374.6,1053.6 L376.0,1053.2 L377.4,1053.0 L378.7,1053.0 L380.1,1053.2 L381.4,1053.5 L382.8,1054.0 L384.2,1054.6 L385.6,1055.4 L386.9,1056.2 L388.2,1057.2 L389.4,1058.3 L390.9,1060.0 L392.4,1061.9 L393.8,1064.1 L395.1,1066.5 L396.4,1069.0 L397.6,1071.5 L398.8,1074.0 L400.0,1076.5 L401.2,1079.1 L402.4,1081.6 L403.6,1084.3 L404.7,1086.9 L405.7,1089.6 L406.8,1092.4 L407.8,1095.2 L408.7,1098.0 L409.6,1101.1 L410.5,1104.3 L411.4,1107.5 L412.1,1110.8 L412.9,1114.1 L413.6,1117.4 L414.3,1120.6 L415.0,1123.7 L415.6,1126.5 L416.2,1129.2 L416.7,1131.9 L417.3,1134.5 L417.8,1137.2 L418.3,1139.8 L418.9,1142.4 L419.5,1145.0 L420.1,1147.6 L420.7,1150.2 L421.3,1152.9 L422.0,1155.5 L422.6,1158.0 L423.3,1160.4 L424.0,1162.6 L424.8,1164.5 L425.3,1165.6 L425.8,1166.7 L426.3,1167.8 L426.8,1168.9 L427.3,1169.7 L427.9,1170.4 L428.4,1170.9 L429.0,1171.0 L429.9,1170.6 L430.9,1169.5 L431.9,1167.8 L432.9,1165.7 L433.9,1163.4 L434.9,1160.8 L435.8,1158.3 L436.6,1155.9 L437.5,1152.5 L438.3,1148.9 L438.9,1145.0 L439.4,1140.9 L439.8,1136.7 L440.2,1132.4 L440.6,1128.0 L441.0,1123.7 L441.4,1118.6 L441.7,1113.4 L441.9,1108.1 L442.1,1102.6 L442.2,1097.2 L442.4,1091.7 L442.7,1086.2 L443.0,1080.8 L443.4,1075.4 L443.9,1070.0 L444.5,1064.6 L445.1,1059.2 L445.7,1053.9 L446.2,1048.5 L446.8,1043.2 L447.3,1038.0 L447.7,1033.1 L448.1,1028.4 L448.5,1023.6 L448.9,1018.9 L449.3,1014.2 L449.6,1009.5 L450.0,1004.8 L450.5,1000.0 L451.0,995.1 L451.5,990.1 L452.1,985.1 L452.7,980.2 L453.2,975.1 L453.8,970.1 L454.4,965.1 L455.0,960.0 L455.6,954.7 L456.2,949.4 L456.9,944.0 L457.5,938.6 L458.2,933.2 L458.8,927.8 L459.4,922.4 L460.0,917.0 L460.5,911.7 L461.0,906.4 L461.5,901.1 L462.0,895.7 L462.5,890.4 L463.0,885.1 L463.5,879.8 L464.0,874.5 L464.6,869.1 L465.2,863.8 L465.8,858.4 L466.5,853.1 L467.2,847.7 L467.8,842.3 L468.4,837.0 L469.0,831.6 L469.6,826.2 L470.1,820.9 L470.6,815.5 L471.1,810.2 L471.6,804.8 L472.1,799.4 L472.6,794.1 L473.0,788.7 L473.4,783.3 L473.8,778.0 L474.2,772.6 L474.5,767.2 L474.8,761.9 L475.2,756.5 L475.6,751.2 L476.0,745.8 L476.4,740.4 L476.9,735.1 L477.4,729.7 L477.9,724.4 L478.4,719.0 L478.9,713.7 L479.4,708.4 L480.0,703.0 L480.6,697.7 L481.2,692.7 L481.8,687.7 L482.4,682.6 L483.0,677.4 L483.7,672.0 L484.3,666.2 L485.0,660.0 L486.0,649.5 L486.9,637.9 L487.9,625.5 L488.8,612.5 L489.9,599.3 L491.0,586.1 L492.2,573.2 L493.6,561.0 L495.0,550.1 L496.7,539.3 L498.4,528.6 L500.2,518.1 L502.0,507.6 L503.8,497.4 L505.4,487.3 L507.0,477.4 L508.3,468.9 L509.5,460.4 L510.7,452.1 L511.8,443.9 L512.9,435.8 L514.0,428.0 L515.0,420.4 L516.0,413.0 L516.7,407.2 L517.4,401.5 L518.0,395.9 L518.6,390.5 L519.2,385.2 L519.8,380.1 L520.6,375.0 L521.5,370.0 L522.4,365.8 L523.4,361.6 L524.4,357.6 L525.5,353.7 L526.6,349.8 L527.8,345.9 L528.9,342.0 L530.0,338.0 L531.1,333.9 L532.1,329.8 L533.2,325.6 L534.2,321.5 L535.3,317.4 L536.4,313.4 L537.5,309.5 L538.7,305.8 L539.7,302.8 L540.6,299.9 L541.6,297.1 L542.5,294.3 L543.6,291.6 L544.7,289.0 L545.9,286.6 L547.3,284.3 L548.6,282.4 L550.1,280.5 L551.6,278.7 L553.1,277.0 L554.8,275.4 L556.5,274.0 L558.2,272.7 L560.0,271.5 L561.7,270.6 L563.5,269.7 L565.4,269.0 L567.3,268.4 L569.2,267.9 L571.2,267.6 L573.1,267.3 L575.0,267.2 L576.9,267.2 L578.7,267.4 L580.5,267.6 L582.4,268.0 L584.2,268.5 L586.1,269.0 L588.0,269.7 L590.0,270.4 L592.5,271.4 L595.0,272.7 L597.6,274.0 L600.2,275.5 L602.8,277.1 L605.6,278.8 L608.5,280.5 L611.6,282.2 L616.3,284.7 L621.3,287.5 L626.6,290.4 L632.1,293.4 L637.7,296.4 L643.3,299.3 L649.0,302.1 L654.5,304.7 L659.8,307.0 L665.1,309.1 L670.5,311.2 L675.9,313.1 L681.3,315.0 L686.6,316.9 L692.0,318.8 L697.4,320.8 L702.8,322.8 L708.1,324.8 L713.5,326.8 L718.9,328.8 L724.2,330.8 L729.6,332.8 L734.9,334.8 L740.3,336.9 L745.7,339.0 L751.0,341.1 L756.4,343.2 L761.8,345.4 L767.1,347.5 L772.5,349.7 L777.8,351.9 L783.2,354.0 L788.6,356.1 L793.9,358.3 L799.3,360.4 L804.6,362.5 L810.0,364.7 L815.3,366.8 L820.7,369.0 L826.0,371.2 L831.5,373.5 L837.1,376.0 L842.8,378.4 L848.4,380.9 L854.0,383.4 L859.3,385.6 L864.3,387.7 L869.0,389.5 L872.0,390.6 L874.9,391.6 L877.6,392.5 L880.3,393.3 L882.9,394.1 L885.3,394.8 L887.7,395.4 L890.0,396.0 L891.6,396.3 L893.0,396.6 L894.4,396.8 L895.8,396.9 L897.1,397.1 L898.5,397.3 L899.9,397.6 L901.5,398.0 L903.9,398.8 L906.3,399.7 L908.9,400.8 L911.6,401.9 L914.3,403.1 L917.2,404.3 L920.0,405.5 L923.0,406.6 L926.7,407.9 L930.5,409.1 L934.5,410.4 L938.6,411.6 L942.7,412.8 L946.8,414.0 L950.9,415.2 L955.0,416.3 L959.0,417.4 L963.1,418.4 L967.2,419.4 L971.4,420.4 L975.4,421.4 L979.4,422.3 L983.3,423.1 L987.0,423.8 L989.9,424.3 L992.6,424.8 L995.2,425.3 L997.7,425.7 L1000.3,426.0 L1002.9,426.4 L1005.7,426.7 L1008.7,427.0 L1012.9,427.4 L1017.3,427.7 L1022.0,428.0 L1026.7,428.3 L1031.6,428.6 L1036.7,428.7 L1041.8,428.9 L1047.0,429.0 L1053.5,429.1 L1060.3,429.1 L1067.4,429.1 L1074.6,429.0 L1081.8,428.9 L1088.9,428.7 L1095.6,428.4 L1102.0,428.0 L1106.8,427.6 L1111.3,427.1 L1115.7,426.6 L1120.0,426.0 L1124.2,425.4 L1128.5,424.8 L1132.9,424.2 L1137.4,423.8 L1142.7,423.4 L1148.2,423.1 L1153.8,422.8 L1159.5,422.6 L1165.1,422.4 L1170.5,422.2 L1175.6,421.9 L1180.3,421.6 L1183.3,421.4 L1186.2,421.2 L1188.9,421.0 L1191.5,420.8 L1194.0,420.6 L1196.5,420.3 L1199.1,420.0 L1201.7,419.5 L1204.4,418.9 L1207.0,418.1 L1209.6,417.3 L1212.2,416.4 L1214.8,415.4 L1217.5,414.5 L1220.3,413.7 L1223.2,413.0 L1226.9,412.3 L1230.8,411.7 L1234.8,411.1 L1238.9,410.6 L1243.0,410.1 L1247.2,409.7 L1251.3,409.3 L1255.4,408.8 L1259.5,408.4 L1263.6,408.1 L1267.8,407.8 L1271.9,407.5 L1276.1,407.1 L1280.1,406.7 L1283.9,406.2 L1287.6,405.5 L1290.6,404.8 L1293.5,404.1 L1296.4,403.4 L1299.1,402.6 L1301.8,401.7 L1304.3,400.6 L1306.8,399.4 L1309.0,398.0 L1310.9,396.5 L1312.5,394.7 L1314.0,392.9 L1315.3,390.9 L1316.7,388.8 L1318.1,386.8 L1319.7,384.8 L1321.5,383.0 L1323.8,381.0 L1326.3,379.1 L1329.0,377.2 L1331.8,375.3 L1334.6,373.5 L1337.5,371.7 L1340.3,369.9 L1343.0,368.0 L1345.7,366.1 L1348.5,364.2 L1351.3,362.2 L1354.1,360.3 L1356.9,358.4 L1359.5,356.5 L1362.0,354.7 L1364.3,353.0 L1365.8,351.8 L1367.2,350.5 L1368.5,349.3 L1369.8,348.1 L1371.1,347.0 L1372.3,346.0 L1373.6,345.0 L1375.0,344.3 L1376.3,343.8 L1377.6,343.3 L1379.0,343.0 L1380.3,342.7 L1381.7,342.5 L1383.1,342.4 L1384.4,342.3 L1385.8,342.3 L1387.1,342.3 L1388.5,342.4 L1389.9,342.6 L1391.2,342.8 L1392.6,343.1 L1393.9,343.5 L1395.2,343.9 L1396.5,344.4 L1397.9,345.1 L1399.3,345.8 L1400.7,346.7 L1402.1,347.6 L1403.5,348.7 L1404.8,349.7 L1406.1,350.8 L1407.3,352.0 L1408.5,353.2 L1409.7,354.5 L1410.8,355.9 L1411.8,357.3 L1412.8,358.8 L1413.8,360.4 L1414.8,362.0 L1415.8,363.7 L1417.0,366.0 L1418.1,368.5 L1419.2,371.2 L1420.3,373.9 L1421.3,376.7 L1422.3,379.6 L1423.4,382.4 L1424.4,385.2 L1425.5,388.1 L1426.6,391.0 L1427.7,393.9 L1428.7,396.9 L1429.8,399.8 L1430.9,402.8 L1431.9,405.8 L1433.0,408.8 L1434.1,411.9 L1435.2,415.1 L1436.4,418.3 L1437.5,421.5 L1438.6,424.7 L1439.6,427.9 L1440.6,431.2 L1441.6,434.5 L1442.5,437.9 L1443.4,441.4 L1444.3,444.9 L1445.1,448.4 L1445.9,451.9 L1446.6,455.5 L1447.3,459.0 L1448.0,462.4 L1448.6,465.6 L1449.2,468.8 L1449.7,472.0 L1450.3,475.2 L1450.8,478.4 L1451.3,481.5 L1451.8,484.8 L1452.3,488.0 L1452.8,491.4 L1453.4,494.9 L1453.9,498.5 L1454.5,502.0 L1455.0,505.5 L1455.5,509.1 L1456.1,512.6 L1456.6,516.0 L1457.1,519.3 L1457.7,522.6 L1458.2,525.8 L1458.8,529.1 L1459.3,532.3 L1459.9,535.5 L1460.4,538.6 L1460.9,541.7 L1461.3,544.5 L1461.7,547.2 L1462.1,549.9 L1462.4,552.6 L1462.8,555.3 L1463.2,557.9 L1463.6,560.6 L1464.0,563.2 L1464.5,565.7 L1464.9,568.0 L1465.4,570.4 L1465.9,572.7 L1466.4,575.1 L1467.0,577.5 L1467.5,580.2 L1468.0,583.0 L1468.8,587.6 L1469.6,592.5 L1470.4,597.8 L1471.2,603.4 L1472.1,609.0 L1472.9,614.7 L1473.6,620.3 L1474.4,625.8 L1475.1,631.2 L1475.8,636.5 L1476.5,641.9 L1477.2,647.2 L1477.8,652.6 L1478.5,658.0 L1479.1,663.3 L1479.7,668.7 L1480.3,674.1 L1480.9,679.4 L1481.4,684.8 L1482.0,690.1 L1482.5,695.5 L1483.0,700.9 L1483.5,706.2 L1484.0,711.6 L1484.5,717.0 L1484.9,722.3 L1485.3,727.7 L1485.7,733.0 L1486.0,738.4 L1486.4,743.8 L1486.9,749.1 L1487.3,754.5 L1487.8,759.9 L1488.3,765.2 L1488.8,770.6 L1489.3,776.0 L1489.9,781.3 L1490.4,786.7 L1491.0,792.0 L1491.5,797.4 L1492.0,802.8 L1492.6,808.1 L1493.2,813.5 L1493.8,818.9 L1494.3,824.2 L1494.9,829.6 L1495.4,834.9 L1495.8,840.3 L1496.1,845.7 L1496.4,851.2 L1496.6,856.7 L1496.8,862.1 L1497.0,867.6 L1497.2,872.9 L1497.5,878.0 L1498.0,883.0 L1498.5,887.0 L1499.1,890.8 L1499.8,894.4 L1500.5,898.0 L1501.2,901.6 L1501.8,905.2 L1502.5,909.0 L1503.0,913.0 L1503.5,918.0 L1503.9,923.2 L1504.3,928.5 L1504.6,933.9 L1504.9,939.4 L1505.2,944.9 L1505.6,950.4 L1506.0,955.8 L1506.5,961.2 L1507.0,966.5 L1507.6,971.9 L1508.2,977.2 L1508.8,982.6 L1509.4,988.0 L1509.9,993.3 L1510.4,998.7 L1510.8,1004.1 L1511.3,1009.4 L1511.6,1014.8 L1512.0,1020.1 L1512.4,1025.5 L1512.7,1030.9 L1513.2,1036.2 L1513.6,1041.6 L1514.1,1047.0 L1514.6,1052.5 L1515.1,1058.1 L1515.6,1063.6 L1516.1,1069.1 L1516.7,1074.4 L1517.3,1079.6 L1518.0,1084.5 L1518.6,1088.4 L1519.1,1092.3 L1519.7,1096.2 L1520.3,1099.9 L1520.9,1103.4 L1521.6,1106.8 L1522.4,1109.8 L1523.3,1112.4 L1523.8,1113.8 L1524.4,1115.2 L1524.9,1116.4 L1525.4,1117.6 L1526.0,1118.6 L1526.8,1119.6 L1527.6,1120.4 L1528.6,1121.0 L1530.2,1121.5 L1532.2,1121.5 L1534.4,1121.2 L1536.8,1120.7 L1539.2,1120.2 L1541.6,1119.9 L1543.8,1119.7 L1545.8,1120.0 L1547.4,1120.5 L1548.8,1121.1 L1550.3,1121.9 L1551.6,1122.8 L1552.9,1123.8 L1554.2,1124.9 L1555.4,1126.1 L1556.5,1127.4 L1557.8,1129.3 L1559.0,1131.4 L1560.1,1133.8 L1561.1,1136.4 L1562.1,1139.0 L1563.0,1141.6 L1564.0,1144.2 L1565.0,1146.7 L1566.1,1149.1 L1567.2,1151.5 L1568.4,1153.9 L1569.5,1156.3 L1570.6,1158.6 L1571.7,1161.1 L1572.7,1163.5 L1573.7,1166.0 L1574.6,1168.6 L1575.5,1171.3 L1576.3,1174.0 L1577.1,1176.7 L1577.9,1179.4 L1578.6,1182.1 L1579.3,1184.8 L1580.0,1187.5 L1580.6,1190.1 L1581.2,1192.7 L1581.8,1195.3 L1582.3,1197.9 L1582.8,1200.5 L1583.3,1203.0 L1583.9,1205.5 L1584.4,1208.0 L1584.9,1210.2 L1585.4,1212.3 L1585.9,1214.4 L1586.4,1216.5 L1586.9,1218.5 L1587.4,1220.6 L1587.9,1222.8 L1588.4,1225.0 L1589.0,1227.6 L1589.6,1230.3 L1590.2,1233.0 L1590.8,1235.7 L1591.5,1238.5 L1592.1,1241.3 L1592.6,1244.1 L1593.2,1246.8 L1593.7,1249.5 L1594.2,1252.3 L1594.6,1255.0 L1595.0,1257.8 L1595.4,1260.5 L1595.9,1263.2 L1596.4,1265.9 L1596.9,1268.5 L1597.4,1270.9 L1598.0,1273.2 L1598.6,1275.6 L1599.2,1277.8 L1599.8,1280.1 L1600.5,1282.3 L1601.1,1284.5 L1601.7,1286.7 L1602.2,1288.6 L1602.7,1290.5 L1603.2,1292.3 L1603.8,1294.2 L1604.3,1296.0 L1604.8,1297.7 L1605.4,1299.5 L1606.0,1301.2 L1606.6,1302.8 L1607.2,1304.5 L1607.7,1306.1 L1608.3,1307.7 L1609.0,1309.3 L1609.7,1310.7 L1610.5,1312.1 L1611.4,1313.3 L1612.3,1314.2 L1613.3,1315.0 L1614.4,1315.6 L1615.6,1316.2 L1616.7,1316.8 L1617.8,1317.5 L1618.9,1318.2 L1619.8,1319.0 L1620.6,1319.9 L1621.4,1320.9 L1622.1,1321.9 L1622.8,1323.0 L1623.4,1324.1 L1624.0,1325.3 L1624.5,1326.6 L1625.0,1328.0 L1625.5,1330.5 L1625.9,1333.8 L1626.1,1337.4 L1626.2,1341.1 L1626.3,1344.5 L1626.3,1347.3 L1626.4,1349.3 L1626.5,1350.0 L1626.7,1349.3 L1626.9,1347.4 L1627.1,1344.5 L1627.2,1341.1 L1627.4,1337.5 L1627.6,1333.8 L1627.8,1330.6 L1628.0,1328.0 L1628.1,1326.7 L1628.2,1325.6 L1628.4,1324.5 L1628.5,1323.5 L1628.6,1322.5 L1628.7,1321.5 L1628.9,1320.3 L1629.0,1319.0 L1629.2,1316.5 L1629.5,1313.7 L1629.7,1310.7 L1629.9,1307.5 L1630.2,1304.2 L1630.5,1301.0 L1630.9,1297.9 L1631.3,1295.0 L1631.7,1292.6 L1632.2,1290.3 L1632.7,1288.0 L1633.3,1285.8 L1633.9,1283.6 L1634.4,1281.4 L1635.0,1279.2 L1635.6,1277.0 L1636.2,1274.7 L1636.8,1272.5 L1637.4,1270.2 L1638.0,1268.0 L1638.6,1265.7 L1639.2,1263.4 L1639.8,1261.2 L1640.4,1258.9 L1641.0,1256.6 L1641.5,1254.4 L1642.0,1252.1 L1642.5,1249.8 L1643.0,1247.5 L1643.6,1245.2 L1644.1,1243.0 L1644.6,1240.7 L1645.1,1238.4 L1645.7,1236.2 L1646.2,1233.9 L1646.7,1231.6 L1647.2,1229.4 L1647.8,1227.1 L1648.3,1224.9 L1648.9,1222.6 L1649.5,1220.3 L1650.1,1218.0 L1650.7,1215.8 L1651.3,1213.5 L1651.9,1211.2 L1652.5,1209.0 L1653.1,1206.7 L1653.7,1204.4 L1654.3,1202.1 L1654.8,1199.8 L1655.3,1197.6 L1655.9,1195.3 L1656.4,1193.0 L1656.9,1190.7 L1657.5,1188.5 L1658.0,1186.3 L1658.5,1184.3 L1659.0,1182.2 L1659.5,1180.2 L1660.0,1178.2 L1660.5,1176.2 L1661.0,1174.3 L1661.6,1172.4 L1662.2,1170.6 L1662.7,1169.1 L1663.3,1167.8 L1663.9,1166.5 L1664.5,1165.2 L1665.1,1163.9 L1665.7,1162.6 L1666.4,1161.1 L1667.0,1159.6 L1667.9,1157.3 L1668.8,1154.7 L1669.8,1152.1 L1670.8,1149.3 L1671.8,1146.4 L1672.7,1143.6 L1673.6,1140.8 L1674.5,1138.0 L1675.3,1135.3 L1676.0,1132.7 L1676.7,1130.0 L1677.4,1127.3 L1678.0,1124.6 L1678.7,1122.0 L1679.3,1119.3 L1680.0,1116.7 L1680.6,1114.2 L1681.1,1111.7 L1681.5,1109.1 L1682.0,1106.6 L1682.5,1104.2 L1683.1,1101.8 L1684.0,1099.5 L1685.0,1097.4 L1686.2,1095.5 L1687.7,1093.8 L1689.3,1092.2 L1691.1,1090.7 L1692.9,1089.2 L1694.7,1087.7 L1696.4,1086.2 L1698.0,1084.5 L1699.6,1082.7 L1701.2,1080.9 L1702.8,1079.1 L1704.3,1077.2 L1705.9,1075.3 L1707.3,1073.4 L1708.7,1071.4 L1710.0,1069.5 L1711.1,1067.6 L1712.0,1065.7 L1712.7,1063.7 L1713.5,1061.8 L1714.3,1059.8 L1715.2,1057.9 L1716.2,1056.2 L1717.4,1054.5 L1718.9,1052.9 L1720.6,1051.4 L1722.5,1050.0 L1724.4,1048.7 L1726.4,1047.4 L1728.4,1046.2 L1730.5,1044.9 L1732.4,1043.7 L1734.3,1042.6 L1736.2,1041.6 L1738.2,1040.6 L1740.2,1039.7 L1742.1,1038.7 L1744.0,1037.6 L1745.8,1036.4 L1747.4,1035.0 L1749.0,1033.1 L1750.3,1030.9 L1751.5,1028.5 L1752.7,1026.0 L1753.8,1023.6 L1755.1,1021.3 L1756.4,1019.4 L1758.0,1018.0 L1759.4,1017.2 L1760.9,1016.7 L1762.5,1016.4 L1764.1,1016.2 L1765.8,1016.1 L1767.5,1016.0 L1769.3,1016.0 L1771.0,1015.9 L1773.0,1015.8 L1775.1,1015.9 L1777.3,1016.0 L1779.5,1016.2 L1781.6,1016.3 L1783.8,1016.3 L1785.9,1016.2 L1788.0,1015.9 L1790.0,1015.4 L1791.9,1014.8 L1793.8,1014.0 L1795.6,1013.2 L1797.5,1012.3 L1799.3,1011.3 L1801.2,1010.3 L1803.0,1009.4 L1804.9,1008.3 L1806.8,1007.1 L1808.6,1005.7 L1810.5,1004.4 L1812.3,1003.1 L1814.2,1002.1 L1816.1,1001.2 L1818.0,1000.8 L1819.8,1000.8 L1821.7,1001.3 L1823.6,1002.0 L1825.5,1002.8 L1827.5,1003.7 L1829.3,1004.4 L1831.2,1004.9 L1833.0,1005.0 L1834.7,1004.7 L1836.4,1004.2 L1838.0,1003.4 L1839.7,1002.5 L1841.3,1001.6 L1842.9,1000.6 L1844.5,999.6 L1846.0,998.7 L1847.4,997.9 L1848.7,996.9 L1850.0,995.9 L1851.3,995.0 L1852.6,994.1 L1853.9,993.3 L1855.3,992.7 L1856.8,992.3 L1858.7,992.3 L1860.8,992.7 L1863.0,993.4 L1865.2,994.2 L1867.4,995.1 L1869.7,995.9 L1871.9,996.4 L1874.0,996.6 L1875.9,996.4 L1877.7,995.9 L1879.5,995.3 L1881.3,994.5 L1883.2,993.8 L1885.0,993.1 L1887.0,992.6 L1889.0,992.3 L1891.7,992.3 L1894.6,992.4 L1897.6,992.8 L1900.7,993.3 L1903.8,993.9 L1906.9,994.6 L1909.8,995.3 L1912.6,996.0 L1914.8,996.6 L1917.0,997.2 L1919.0,997.9 L1921.0,998.6 L1923.0,999.4 L1925.0,1000.2 L1927.1,1000.9 L1929.3,1001.7 L1932.0,1002.7 L1934.7,1003.8 L1937.6,1005.0 L1940.5,1006.2 L1943.4,1007.3 L1946.2,1008.3 L1949.0,1009.1 L1951.7,1009.5 L1953.9,1009.6 L1956.0,1009.5 L1958.1,1009.3 L1960.2,1008.9 L1962.2,1008.5 L1964.3,1008.0 L1966.3,1007.6 L1968.4,1007.3 L1970.5,1007.0 L1972.6,1006.8 L1974.6,1006.6 L1976.7,1006.4 L1978.8,1006.2 L1980.9,1005.9 L1982.9,1005.5 L1985.0,1005.0 L1987.1,1004.3 L1989.3,1003.5 L1991.4,1002.5 L1993.5,1001.5 L1995.6,1000.5 L1997.7,999.6 L1999.9,998.9 L2002.0,998.4 L2004.0,998.2 L2006.1,998.2 L2008.1,998.4 L2010.1,998.7 L2012.1,999.0 L2014.2,999.3 L2016.4,999.5 L2018.7,999.5 L2021.7,999.4 L2024.9,999.1 L2028.2,998.8 L2031.6,998.4 L2035.1,998.0 L2038.5,997.5 L2041.9,997.1 L2045.3,996.7" stroke="#0080ff"/>
<path d="M255.0,726.5 L257.8,726.6 L260.3,726.7M289.8,727.5 L291.7,727.5 L300.0,728.0 L307.8,728.5 L315.7,729.1 L319.8,729.4M348.8,734.1 L349.0,734.1 L353.1,735.3 L357.2,736.7 L361.5,738.4 L366.8,740.7 L372.8,743.5 L376.5,745.4M412.9,768.1 L413.9,768.8 L419.4,772.9 L425.0,777.0 L430.7,781.3 L436.3,785.7 L436.9,786.1M474.7,818.1 L476.5,819.9 L481.8,825.3 L486.3,830.7 L490.0,835.7 L493.3,840.9 L493.5,841.3M510.2,874.2 L510.2,874.2 L512.7,880.1 L515.2,886.0 L517.6,892.0 L519.8,898.0 L521.3,902.0M534.3,935.4 L534.4,935.7 L537.0,941.4 L539.9,946.7 L543.0,951.3 L546.1,955.2 L549.3,958.7 L550.8,960.1M580.3,980.1 L581.0,980.3 L583.8,981.2 L586.6,981.8 L589.3,982.2 L592.1,982.3 L595.0,982.0 L598.6,981.0 L602.3,979.4 L606.0,977.4 L608.6,975.9M636.2,957.5 L636.6,957.3 L642.1,953.6 L648.9,949.0 L656.1,944.1 L661.1,940.8M691.2,927.3 L692.0,927.1 L698.0,925.8 L704.0,924.8 L710.0,924.0 L716.0,923.4 L720.9,923.1M754.0,923.2 L754.7,923.3 L760.9,923.5 L766.9,924.0 L772.7,924.7 L777.4,925.6 L781.6,926.7 L783.6,927.3M815.0,938.2 L816.1,938.5 L820.0,939.9 L823.9,941.3 L827.8,942.7 L831.8,944.1 L835.9,945.5 L840.6,947.1 L843.4,947.9M876.1,957.3 L877.0,957.5 L883.1,959.0 L889.2,960.4 L895.2,961.8 L901.1,963.4 L905.2,964.7M937.2,976.5 L938.1,976.8 L942.0,978.1 L945.9,979.3 L950.1,980.6 L954.9,981.9 L960.1,983.4 L965.5,984.7 L966.0,984.9M993.1,990.4 L993.9,990.5 L999.1,991.2 L1004.4,991.7 L1009.9,992.1 L1015.9,992.2 L1021.9,992.1 L1023.0,992.0M1054.1,989.9 L1054.6,989.9 L1059.9,989.3 L1065.4,988.6 L1070.9,987.6 L1076.8,986.4 L1082.7,984.9 L1083.6,984.6M1111.7,976.6 L1113.2,976.2 L1118.1,974.7 L1122.8,973.1 L1127.5,971.4 L1132.0,969.6 L1136.3,967.6 L1139.7,966.0M1172.3,957.1 L1173.1,957.0 L1180.3,955.6 L1187.0,954.0 L1192.5,952.4 L1197.7,950.8 L1201.3,949.6M1232.6,938.1 L1233.0,937.9 L1239.0,935.8 L1245.0,934.3 L1250.5,933.7 L1255.8,933.8 L1261.0,934.4 L1261.9,934.5M1290.0,935.8 L1291.8,935.7 L1297.5,935.6 L1303.1,935.8 L1308.8,936.5 L1314.4,937.5 L1319.8,938.6M1350.2,944.5 L1351.9,944.8 L1357.5,945.7 L1363.1,946.7 L1368.8,947.7 L1374.7,949.0 L1379.7,950.1M1409.5,954.1 L1410.0,954.0 L1412.4,953.1 L1414.6,951.7 L1416.8,950.0 L1419.0,948.3 L1421.2,946.5 L1423.8,944.8 L1426.6,943.0 L1429.5,941.2 L1432.4,939.3 L1434.5,937.8M1462.0,919.3 L1462.1,919.2 L1465.0,918.6 L1468.2,918.5 L1471.5,918.5 L1474.8,918.5 L1478.0,918.4 L1480.9,917.8 L1483.6,917.0 L1486.2,916.1 L1488.7,915.0 L1491.0,913.6 L1491.0,913.6M1501.1,895.8 L1501.5,895.2 L1502.9,892.4 L1504.4,889.6 L1505.9,886.7 L1507.4,883.5 L1509.1,879.3 L1510.8,874.3 L1512.4,869.0 L1512.7,868.2M1530.1,833.3 L1530.1,833.3 L1532.7,829.1 L1535.2,824.9 L1537.8,820.8 L1540.4,816.7 L1543.0,812.6 L1545.5,808.8 L1546.1,807.9M1570.0,776.9 L1570.4,776.5 L1573.8,773.1 L1577.8,769.6 L1582.1,766.2 L1586.8,762.8 L1591.6,759.7 L1593.5,758.5M1630.1,745.0 L1631.1,744.8 L1634.1,744.3 L1636.9,743.9 L1639.6,743.7 L1642.3,743.6 L1645.0,743.5 L1647.7,743.4 L1650.3,743.5 L1652.9,743.6 L1655.7,743.7 L1658.9,743.9 L1660.0,744.0M1686.1,746.5 L1688.0,746.7 L1696.1,747.6 L1702.9,748.2 L1708.6,748.6 L1714.0,748.9 L1716.0,749.1M1745.1,751.3 L1745.6,751.3 L1751.3,751.8 L1756.7,752.2 L1761.1,752.6 L1764.3,752.8 L1767.3,753.0 L1770.2,753.2 L1773.1,753.3 L1775.0,753.4" stroke="#ff8000"/>
<path d="M255.0,726.5 L259.2,726.7 L263.5,726.8 L267.8,726.9 L272.1,727.1 L276.4,727.2 L280.6,727.5 L284.6,728.0 L288.6,728.6 L292.0,729.3 L295.4,730.2 L298.7,731.1 L302.0,732.2 L305.2,733.3 L308.3,734.6 L311.4,735.8 L314.4,737.2 L317.2,738.6 L320.0,740.0 L322.7,741.5 L325.4,743.0 L328.0,744.6 L330.6,746.3 L333.2,748.1 L335.8,750.0 L338.6,752.1 L341.3,754.4 L344.0,756.7 L346.7,759.1 L349.4,761.6 L352.0,764.2 L354.7,766.8 L357.3,769.4 L360.0,772.2 L362.7,775.0 L365.4,777.9 L368.1,780.9 L370.8,783.9 L373.4,786.9 L376.1,790.0 L378.7,793.0 L381.4,796.1 L384.1,799.2 L386.8,802.4 L389.4,805.6 L392.1,808.8 L394.7,812.0 L397.4,815.3 L400.0,818.7 L402.8,822.3 L405.5,825.9 L408.2,829.5 L411.0,833.2 L413.7,837.0 L416.4,840.8 L419.0,844.8 L421.6,848.8 L424.4,853.4 L427.3,858.1 L430.1,863.0 L432.9,868.0 L435.6,873.0 L438.2,877.9 L440.7,882.7 L443.0,887.4 L444.9,891.3 L446.6,895.2 L448.2,899.1 L449.7,903.0 L451.2,906.7 L452.7,910.4 L454.3,914.0 L456.0,917.4 L457.6,920.3 L459.2,923.1 L460.8,925.9 L462.5,928.6 L464.1,931.2 L465.8,933.8 L467.3,936.3 L468.8,938.8 L469.9,940.8 L471.0,942.8 L472.0,944.8 L473.0,946.7 L474.0,948.6 L475.1,950.4 L476.2,952.2 L477.4,953.9 L478.6,955.5 L479.8,957.0 L481.0,958.6 L482.3,960.1 L483.6,961.4 L485.0,962.7 L486.4,963.7 L488.0,964.6 L489.7,965.2 L491.5,965.7 L493.3,966.0 L495.3,966.1 L497.2,966.2 L499.2,966.1 L501.1,965.9 L503.0,965.7 L504.9,965.4 L506.9,964.9 L508.8,964.4 L510.8,963.7 L512.7,963.0 L514.5,962.1 L516.3,961.3 L518.0,960.3 L519.5,959.3 L520.8,958.0 L522.1,956.7 L523.3,955.3 L524.6,954.0 L525.9,952.7 L527.3,951.5 L528.8,950.6 L530.7,949.7 L532.8,949.0 L535.0,948.3 L537.3,947.7 L539.6,947.3 L541.8,947.1 L544.0,947.1 L546.0,947.4 L547.8,947.9 L549.5,948.7 L551.1,949.7 L552.7,950.9 L554.3,952.2 L555.9,953.5 L557.4,954.8 L559.0,956.0 L560.6,957.3 L562.2,958.6 L563.7,960.0 L565.2,961.4 L566.7,962.8 L568.3,964.2 L570.0,965.5 L571.7,966.7 L573.7,968.0 L575.8,969.4 L577.9,970.8 L580.2,972.1 L582.4,973.2 L584.6,974.2 L586.8,974.9 L589.0,975.3 L590.9,975.3 L592.7,975.1 L594.6,974.7 L596.4,974.1 L598.2,973.4 L600.1,972.6 L602.0,971.8 L604.0,971.0 L606.5,970.0 L609.1,968.8 L611.8,967.5 L614.5,966.1 L617.3,964.7 L620.0,963.2 L622.7,961.8 L625.4,960.3 L628.1,958.8 L630.7,957.2 L633.3,955.6 L635.8,954.0 L638.5,952.4 L641.1,950.7 L643.9,949.0 L646.8,947.4 L650.4,945.4 L654.1,943.3 L658.0,941.1 L661.9,939.0 L665.9,936.9 L669.9,934.9 L674.0,933.1 L678.0,931.5 L681.9,930.1 L685.9,928.9 L689.8,927.8 L693.9,926.9 L697.9,926.0 L701.9,925.2 L706.0,924.6 L710.0,924.0 L714.0,923.5 L718.0,923.2 L722.1,923.0 L726.1,922.9 L730.2,922.9 L734.2,922.9 L738.3,922.9 L742.3,923.0 L746.4,923.1 L750.5,923.1 L754.7,923.3 L758.8,923.4 L762.9,923.7 L766.9,924.0 L770.8,924.4 L774.5,925.0 L777.4,925.6 L780.2,926.3 L782.9,927.1 L785.6,927.9 L788.2,928.8 L790.8,929.7 L793.4,930.6 L796.0,931.5 L798.7,932.4 L801.4,933.3 L804.0,934.2 L806.7,935.2 L809.4,936.1 L812.1,937.1 L814.7,938.1 L817.4,939.0 L820.0,939.9 L822.6,940.9 L825.2,941.8 L827.8,942.8 L830.4,943.7 L833.1,944.7 L835.9,945.6 L838.8,946.5 L842.5,947.6 L846.4,948.8 L850.4,949.9 L854.4,951.0 L858.6,952.1 L862.8,953.2 L866.9,954.1 L871.0,955.0 L875.0,955.8 L878.9,956.4 L882.8,957.0 L886.8,957.5 L890.8,958.0 L894.8,958.5 L898.9,958.9 L903.2,959.4 L908.3,959.9 L913.5,960.3 L918.8,960.7 L924.2,961.1 L929.7,961.5 L935.1,961.8 L940.6,962.2 L946.0,962.6 L951.4,963.1 L956.7,963.6 L962.1,964.1 L967.5,964.7 L972.8,965.1 L978.2,965.5 L983.6,965.7 L989.0,965.8 L994.5,965.6 L1000.0,965.2 L1005.5,964.7 L1011.0,964.0 L1016.5,963.4 L1022.0,962.7 L1027.5,962.1 L1033.0,961.6 L1038.5,961.3 L1044.1,961.0 L1049.7,960.8 L1055.4,960.6 L1060.9,960.4 L1066.1,960.2 L1071.2,959.9 L1075.8,959.5 L1078.8,959.2 L1081.6,958.8 L1084.2,958.4 L1086.8,958.1 L1089.3,957.6 L1091.8,957.2 L1094.5,956.8 L1097.3,956.3 L1101.0,955.7 L1104.9,955.1 L1108.9,954.4 L1112.9,953.7 L1117.1,953.0 L1121.2,952.3 L1125.3,951.6 L1129.4,951.0 L1133.4,950.4 L1137.3,949.8 L1141.3,949.2 L1145.2,948.6 L1149.2,948.0 L1153.2,947.5 L1157.3,947.0 L1161.6,946.6 L1166.7,946.2 L1171.9,945.8 L1177.2,945.5 L1182.7,945.2 L1188.1,945.0 L1193.6,944.8 L1199.1,944.6 L1204.5,944.5 L1209.9,944.4 L1215.4,944.4 L1220.9,944.3 L1226.3,944.4 L1231.8,944.4 L1237.1,944.5 L1242.3,944.5 L1247.4,944.5 L1251.7,944.5 L1255.9,944.6 L1260.1,944.8 L1264.2,944.9 L1268.2,944.9 L1272.1,944.9 L1275.9,944.8 L1279.6,944.5 L1282.5,944.1 L1285.4,943.5 L1288.1,942.8 L1290.8,942.0 L1293.5,941.3 L1296.0,940.7 L1298.5,940.2 L1301.0,940.0 L1303.0,940.0 L1305.0,940.0 L1306.9,940.2 L1308.8,940.4 L1310.6,940.7 L1312.5,941.2 L1314.2,941.7 L1316.0,942.3 L1317.7,943.1 L1319.4,944.0 L1321.1,945.0 L1322.7,946.1 L1324.3,947.2 L1325.9,948.5 L1327.4,949.7 L1329.0,951.0 L1330.7,952.4 L1332.3,953.9 L1333.9,955.4 L1335.5,957.0 L1337.1,958.6 L1338.7,960.3 L1340.3,962.0 L1341.8,963.8 L1343.5,965.8 L1345.1,967.8 L1346.8,969.9 L1348.4,972.1 L1350.0,974.3 L1351.6,976.5 L1353.1,978.7 L1354.6,981.0 L1356.1,983.3 L1357.5,985.6 L1358.9,987.9 L1360.3,990.3 L1361.6,992.7 L1362.9,995.1 L1364.2,997.5 L1365.4,1000.0 L1366.6,1002.6 L1367.8,1005.3 L1368.9,1008.0 L1370.0,1010.7 L1371.0,1013.5 L1372.1,1016.2 L1373.0,1019.0 L1374.0,1021.7 L1374.9,1024.4 L1375.7,1027.0 L1376.5,1029.7 L1377.3,1032.3 L1378.1,1035.0 L1378.8,1037.7 L1379.6,1040.3 L1380.4,1043.0 L1381.2,1045.7 L1382.0,1048.4 L1382.8,1051.1 L1383.6,1053.8 L1384.4,1056.5 L1385.2,1059.2 L1386.0,1061.9 L1386.8,1064.6 L1387.6,1067.2 L1388.4,1069.8 L1389.3,1072.3 L1390.1,1074.8 L1390.9,1077.4 L1391.7,1080.1 L1392.5,1083.0 L1393.3,1086.0 L1394.3,1090.6 L1395.3,1095.6 L1396.2,1100.8 L1397.1,1106.3 L1398.0,1111.9 L1398.9,1117.5 L1399.8,1123.1 L1400.7,1128.5 L1401.6,1133.8 L1402.6,1139.2 L1403.6,1144.5 L1404.6,1149.9 L1405.5,1155.2 L1406.5,1160.6 L1407.4,1165.9 L1408.2,1171.3 L1409.0,1176.7 L1409.7,1182.1 L1410.4,1187.6 L1411.0,1193.0 L1411.6,1198.4 L1412.3,1203.8 L1412.9,1209.0 L1413.5,1214.0 L1414.0,1218.3 L1414.5,1222.5 L1415.0,1226.6 L1415.5,1230.7 L1416.0,1234.7 L1416.6,1238.6 L1417.2,1242.4 L1417.8,1246.0 L1418.4,1248.9 L1418.9,1251.8 L1419.5,1254.7 L1420.1,1257.5 L1420.7,1260.1 L1421.4,1262.6 L1422.2,1264.9 L1423.0,1267.0 L1423.6,1268.3 L1424.2,1269.7 L1424.9,1271.0 L1425.6,1272.2 L1426.3,1273.3 L1427.0,1274.1 L1427.8,1274.7 L1428.5,1275.0 L1429.2,1274.9 L1429.9,1274.6 L1430.6,1274.1 L1431.3,1273.4 L1432.0,1272.6 L1432.7,1271.8 L1433.4,1270.9 L1434.0,1270.0 L1434.8,1268.8 L1435.5,1267.4 L1436.2,1265.9 L1436.9,1264.3 L1437.5,1262.7 L1438.1,1260.9 L1438.7,1259.0 L1439.2,1257.0 L1440.0,1253.7 L1440.6,1250.0 L1441.2,1246.0 L1441.7,1241.8 L1442.2,1237.5 L1442.6,1233.2 L1443.0,1228.9 L1443.5,1224.8 L1444.0,1220.8 L1444.4,1216.9 L1444.8,1213.0 L1445.2,1209.0 L1445.6,1205.1 L1445.9,1201.0 L1446.3,1196.9 L1446.7,1192.7 L1447.1,1187.7 L1447.5,1182.5 L1447.9,1177.1 L1448.3,1171.7 L1448.6,1166.3 L1449.0,1160.8 L1449.5,1155.4 L1450.0,1150.0 L1450.6,1144.6 L1451.2,1139.3 L1451.8,1133.9 L1452.5,1128.5 L1453.2,1123.1 L1453.9,1117.8 L1454.6,1112.4 L1455.3,1107.0 L1455.9,1101.6 L1456.6,1096.1 L1457.2,1090.6 L1457.8,1085.1 L1458.4,1079.6 L1459.1,1074.3 L1459.8,1069.1 L1460.6,1064.0 L1461.3,1059.8 L1462.1,1055.7 L1462.9,1051.7 L1463.7,1047.7 L1464.5,1043.8 L1465.4,1039.9 L1466.2,1036.0 L1467.0,1032.0 L1467.8,1027.8 L1468.7,1023.6 L1469.5,1019.3 L1470.4,1015.0 L1471.2,1010.8 L1472.1,1006.6 L1472.9,1002.4 L1473.7,998.4 L1474.4,994.8 L1475.1,991.4 L1475.8,987.9 L1476.5,984.5 L1477.2,981.1 L1477.8,977.8 L1478.5,974.4 L1479.2,971.0 L1479.9,967.6 L1480.5,964.1 L1481.2,960.6 L1481.8,957.1 L1482.5,953.7 L1483.2,950.3 L1483.9,947.0 L1484.7,943.8 L1485.5,941.1 L1486.3,938.4 L1487.1,935.9 L1488.0,933.3 L1488.9,930.8 L1489.8,928.3 L1490.6,925.8 L1491.5,923.3 L1492.3,920.7 L1493.1,918.2 L1493.9,915.6 L1494.7,913.0 L1495.6,910.4 L1496.4,907.9 L1497.3,905.3 L1498.3,902.8 L1499.4,900.2 L1500.5,897.7 L1501.8,895.3 L1503.0,892.8 L1504.3,890.3 L1505.5,887.7 L1506.7,885.1 L1507.9,882.4 L1509.1,879.2 L1510.3,875.8 L1511.4,872.3 L1512.4,868.8 L1513.6,865.2 L1514.7,861.7 L1516.0,858.3 L1517.4,855.0 L1518.9,852.0 L1520.5,849.0 L1522.2,846.1 L1523.9,843.2 L1525.7,840.4 L1527.5,837.5 L1529.3,834.7 L1531.0,831.9 L1532.7,829.1 L1534.4,826.3 L1536.1,823.5 L1537.8,820.8 L1539.5,818.0 L1541.2,815.3 L1543.0,812.6 L1544.7,810.0 L1546.4,807.5 L1548.0,805.0 L1549.7,802.6 L1551.4,800.2 L1553.1,797.8 L1554.8,795.5 L1556.6,793.2 L1558.4,791.0 L1560.1,789.0 L1561.9,787.0 L1563.8,785.0 L1565.6,783.1 L1567.5,781.3 L1569.3,779.5 L1571.2,777.7 L1573.0,776.0 L1574.6,774.5 L1576.1,772.9 L1577.5,771.3 L1579.0,769.8 L1580.5,768.4 L1582.2,767.1 L1584.0,766.0 L1586.0,765.0 L1589.0,764.1 L1592.4,763.5 L1596.0,763.2 L1599.8,763.1 L1603.7,763.2 L1607.8,763.2 L1611.9,763.2 L1616.0,763.0 L1621.0,762.6 L1626.2,762.2 L1631.5,761.8 L1637.0,761.4 L1642.5,760.9 L1648.0,760.6 L1653.5,760.2 L1658.9,759.9 L1664.4,759.6 L1669.9,759.3 L1675.6,759.0 L1681.2,758.7 L1686.7,758.5 L1692.0,758.5 L1697.1,758.5 L1701.7,758.8 L1704.8,759.1 L1707.6,759.6 L1710.4,760.1 L1713.0,760.7 L1715.5,761.3 L1718.1,761.9 L1720.6,762.5 L1723.2,763.0 L1725.7,763.4 L1728.0,763.8 L1730.3,764.2 L1732.7,764.6 L1735.0,764.9 L1737.5,765.3 L1740.2,765.6 L1743.0,766.0 L1747.5,766.6 L1752.5,767.1 L1757.7,767.7 L1763.1,768.2 L1768.7,768.8 L1774.4,769.3 L1780.2,769.9 L1785.8,770.4 L1792.0,771.0 L1798.5,771.5 L1805.1,772.1 L1811.7,772.7 L1818.3,773.2 L1824.8,773.7 L1831.0,774.2 L1837.0,774.7 L1841.7,775.0 L1846.4,775.3 L1851.0,775.6 L1855.5,775.9 L1859.8,776.2 L1864.0,776.5 L1867.9,776.9 L1871.6,777.3 L1874.0,777.7 L1876.3,778.0 L1878.5,778.4 L1880.5,778.8 L1882.6,779.3 L1884.6,779.7 L1886.6,780.2 L1888.7,780.7 L1890.8,781.3 L1892.9,781.9 L1895.0,782.5 L1897.1,783.2 L1899.3,783.9 L1901.4,784.5 L1903.7,785.2 L1906.0,785.8 L1909.0,786.5 L1912.1,787.2 L1915.4,787.9 L1918.8,788.6 L1922.1,789.3 L1925.4,789.9 L1928.6,790.5 L1931.6,791.0 L1933.9,791.4 L1936.1,791.9 L1938.1,792.3 L1940.2,792.7 L1942.2,793.1 L1944.3,793.4 L1946.5,793.5 L1948.8,793.6 L1951.8,793.4 L1955.0,792.9 L1958.3,792.3 L1961.6,791.5 L1965.0,790.8 L1968.3,790.1 L1971.5,789.6 L1974.5,789.3 L1976.8,789.3 L1979.1,789.6 L1981.3,790.0 L1983.5,790.4 L1985.6,790.8 L1987.7,791.1 L1989.7,791.2 L1991.7,791.0 L1993.5,790.5 L1995.3,789.7 L1997.1,788.7 L1998.8,787.6 L2000.5,786.5 L2002.1,785.7 L2003.8,785.1 L2005.4,785.0 L2006.9,785.3 L2008.4,786.1 L2009.9,787.0 L2011.3,788.2 L2012.7,789.4 L2014.2,790.7 L2015.8,791.8 L2017.4,792.7 L2019.4,793.5 L2021.5,794.3 L2023.7,795.0 L2026.0,795.7 L2028.3,796.3 L2030.5,796.8 L2032.6,797.4 L2034.6,797.9 L2036.1,798.3 L2037.4,798.6 L2038.8,798.9 L2040.1,799.2 L2041.4,799.5 L2042.7,799.8 L2044.0,800.1 L2045.3,800.4" stroke="#ff8000"/>
</g>
<g fill="none" stroke="#000">
<line x1="516.1" y1="101.1" x2="516.1" y2="1342" stroke-width="12.9" stroke-opacity="0.40" stroke-dasharray="12.9 13.16"/>
<line x1="516.1" y1="101.1" x2="516.1" y2="1343" stroke-width="4.3" stroke-opacity="0.42" stroke-dasharray="21.5 4.56" stroke-dashoffset="4.3"/>
<line x1="516.1" y1="101.1" x2="516.1" y2="1342" stroke-width="4.4" stroke-opacity="0.9" stroke-dasharray="12.9 13.16"/>
<line x1="1424.6" y1="101" x2="1424.6" y2="1343" stroke-width="8.7" stroke-opacity="0.2" stroke-dasharray="21.8 4.26"/>
<line x1="1424.6" y1="105.3" x2="1424.6" y2="1342" stroke-width="8.7" stroke-opacity="0.9" stroke-dasharray="13.2 12.86"/>
<line x1="1431" y1="105.3" x2="1431" y2="1342" stroke-width="4" stroke-opacity="0.1" stroke-dasharray="13.2 12.86"/>
</g>

<g stroke="#000" stroke-width="4.2" fill="none">
<line x1="551.1" y1="1337" x2="551.1" y2="1317"/>
<line x1="851.7" y1="1337" x2="851.7" y2="1317"/>
<line x1="1148" y1="1337" x2="1148" y2="1317"/>
<line x1="1448.6" y1="1337" x2="1448.6" y2="1313"/>
<line x1="1744.9" y1="1337" x2="1744.9" y2="1317"/>
<line x1="255" y1="256" x2="274.2" y2="256"/>
<line x1="255" y1="408.3" x2="274.2" y2="408.3"/>
<line x1="255" y1="565.2" x2="274.2" y2="565.2"/>
<line x1="255" y1="718" x2="274.2" y2="718"/>
<line x1="255" y1="874.8" x2="274.2" y2="874.8"/>
<line x1="255" y1="1027.3" x2="274.2" y2="1027.3"/>
<line x1="255" y1="1184.4" x2="274.2" y2="1184.4"/>
</g>
<rect x="255" y="99" width="1790.3" height="1238" fill="none" stroke="#000" stroke-width="4.2"/>
<defs><clipPath id="c1"><path clip-rule="evenodd" d="M-3000,-3000H3000V3000H-3000ZM-96.05,-10.22H-79.38V3.80H-96.05ZM-67.62,-10.22H-51.65V3.80H-67.62Z"/></clipPath><clipPath id="c2"><path clip-rule="evenodd" d="M-3000,-3000H3000V3000H-3000ZM-96.05,-10.22H-79.38V3.80H-96.05ZM-67.62,-10.22H-51.65V3.80H-67.62Z"/></clipPath><clipPath id="c3"><path clip-rule="evenodd" d="M-3000,-3000H3000V3000H-3000ZM-96.05,-10.22H-79.38V3.80H-96.05ZM-67.62,-10.22H-51.65V3.80H-67.62Z"/></clipPath><clipPath id="c4"><path clip-rule="evenodd" d="M-3000,-3000H3000V3000H-3000ZM-96.05,-10.22H-79.38V3.80H-96.05ZM-67.62,-10.22H-51.65V3.80H-67.62Z"/></clipPath><clipPath id="c5"><path clip-rule="evenodd" d="M-3000,-3000H3000V3000H-3000ZM-20.97,-10.22H-4.30V3.80H-20.97ZM7.46,-10.22H23.43V3.80H7.46Z"/></clipPath><clipPath id="c6"><path clip-rule="evenodd" d="M-3000,-3000H3000V3000H-3000ZM-275.79,-13.31H-257.16V3.00H-275.79ZM-240.69,-13.31H-223.39V3.00H-240.69Z"/></clipPath><clipPath id="c7"><path clip-rule="evenodd" d="M-3000,-3000H3000V3000H-3000ZM109.49,-9.37H125.47V3.25H109.49ZM135.77,-9.37H151.07V3.25H135.77Z"/></clipPath><clipPath id="c8"><path clip-rule="evenodd" d="M-3000,-3000H3000V3000H-3000ZM61.66,-9.37H77.64V3.25H61.66ZM87.94,-9.37H103.24V3.25H87.94ZM109.49,-9.37H125.47V3.25H109.49ZM135.77,-9.37H151.07V3.25H135.77Z"/></clipPath><clipPath id="c9"><path clip-rule="evenodd" d="M-3000,-3000H3000V3000H-3000ZM80.20,-6.16H90.59V3.00H80.20ZM98.07,-6.16H108.05V3.00H98.07ZM109.67,-6.16H120.06V3.00H109.67ZM127.55,-6.16H137.52V3.00H127.55ZM306.06,-6.16H315.86V3.00H306.06ZM322.91,-6.16H332.32V3.00H322.91Z"/></clipPath></defs>
<g style="font-kerning:none">
<text transform="translate(232,118.2) scale(0.885,1)" font-size="90" text-anchor="end" font-weight="normal" fill="#000" stroke="#000" stroke-width="2.6" stroke-linejoin="round">20</text>
<text transform="translate(232,273.5) scale(0.885,1)" font-size="90" text-anchor="end" font-weight="normal" fill="#000" stroke="#000" stroke-width="2.6" stroke-linejoin="round" clip-path="url(#c1)">15</text>
<text transform="translate(232,428.8) scale(0.885,1)" font-size="90" text-anchor="end" font-weight="normal" fill="#000" stroke="#000" stroke-width="2.6" stroke-linejoin="round" clip-path="url(#c2)">10</text>
<text transform="translate(232,584.1) scale(0.885,1)" font-size="90" text-anchor="end" font-weight="normal" fill="#000" stroke="#000" stroke-width="2.6" stroke-linejoin="round">5</text>
<text transform="translate(232,739.4) scale(0.885,1)" font-size="90" text-anchor="end" font-weight="normal" fill="#000" stroke="#000" stroke-width="2.6" stroke-linejoin="round">0</text>
<text transform="translate(232,894.7) scale(0.885,1)" font-size="90" text-anchor="end" font-weight="normal" fill="#000" stroke="#000" stroke-width="2.6" stroke-linejoin="round">-5</text>
<text transform="translate(232,1050) scale(0.885,1)" font-size="90" text-anchor="end" font-weight="normal" fill="#000" stroke="#000" stroke-width="2.6" stroke-linejoin="round" clip-path="url(#c3)">-10</text>
<text transform="translate(232,1205.3) scale(0.885,1)" font-size="90" text-anchor="end" font-weight="normal" fill="#000" stroke="#000" stroke-width="2.6" stroke-linejoin="round" clip-path="url(#c4)">-15</text>
<text transform="translate(232,1360.6) scale(0.885,1)" font-size="90" text-anchor="end" font-weight="normal" fill="#000" stroke="#000" stroke-width="2.6" stroke-linejoin="round">-20</text>
<text transform="translate(253.5,1430.2) scale(0.885,1)" font-size="90" text-anchor="middle" font-weight="normal" fill="#000" stroke="#000" stroke-width="2.6" stroke-linejoin="round" clip-path="url(#c5)">1</text>
<text transform="translate(549.6,1430.2) scale(0.885,1)" font-size="90" text-anchor="middle" font-weight="normal" fill="#000" stroke="#000" stroke-width="2.6" stroke-linejoin="round">2</text>
<text transform="translate(850.2,1430.2) scale(0.885,1)" font-size="90" text-anchor="middle" font-weight="normal" fill="#000" stroke="#000" stroke-width="2.6" stroke-linejoin="round">3</text>
<text transform="translate(1146.5,1430.2) scale(0.885,1)" font-size="90" text-anchor="middle" font-weight="normal" fill="#000" stroke="#000" stroke-width="2.6" stroke-linejoin="round">4</text>
<text transform="translate(1447.1,1430.2) scale(0.885,1)" font-size="90" text-anchor="middle" font-weight="normal" fill="#000" stroke="#000" stroke-width="2.6" stroke-linejoin="round">5</text>
<text transform="translate(1743.4,1430.2) scale(0.885,1)" font-size="90" text-anchor="middle" font-weight="normal" fill="#000" stroke="#000" stroke-width="2.6" stroke-linejoin="round">6</text>
<text transform="translate(2043.8,1430.2) scale(0.885,1)" font-size="90" text-anchor="middle" font-weight="normal" fill="#000" stroke="#000" stroke-width="2.6" stroke-linejoin="round">7</text>
<text transform="translate(787,1547.6) scale(0.89,1)" font-weight="normal" fill="#000" stroke="#000" stroke-linejoin="round"><tspan x="0.00" font-size="109.5" stroke-width="3" textLength="66.89" lengthAdjust="spacingAndGlyphs">F</tspan><tspan x="66.89" font-size="101.288" stroke-width="3" textLength="450.46" lengthAdjust="spacingAndGlyphs">requency</tspan> <tspan x="541.27" font-size="109.5" stroke-width="3" textLength="185.38" lengthAdjust="spacingAndGlyphs">(GH</tspan><tspan x="726.65" font-size="101.288" stroke-width="3" textLength="50.57" lengthAdjust="spacingAndGlyphs">z</tspan><tspan x="777.22" font-size="109.5" stroke-width="3" textLength="33.68" lengthAdjust="spacingAndGlyphs">)</tspan></text>
<text transform="translate(990.5,210) scale(0.832,1)" font-size="104" text-anchor="middle" font-weight="bold" fill="#000" stroke="#000" stroke-width="1" stroke-linejoin="round" clip-path="url(#c6)">1.9-4.9 GHz</text>
<rect x="1470" y="138" width="553.7" height="169.5" fill="#fff" stroke="#1a1a1a" stroke-width="4"/>
<text transform="translate(1506.5,205.2) scale(0.8,1)" font-size="60" text-anchor="start" font-weight="bold" fill="#000" letter-spacing="1.25" stroke="#000" stroke-width="0.5" stroke-linejoin="round">Solid: measurement</text>
<text transform="translate(1506.5,274) scale(0.8,1)" font-size="60" text-anchor="start" font-weight="bold" fill="#000" letter-spacing="1.3" stroke="#000" stroke-width="0.5" stroke-linejoin="round">Dash: simulation</text>
<text transform="translate(555,435.8) scale(0.86,1)" font-size="86" text-anchor="start" font-weight="normal" fill="#3399ff" stroke="#3399ff" stroke-width="1.5" stroke-linejoin="round" clip-path="url(#c7)">S21</text>
<text transform="translate(729,867) scale(0.85,1)" font-size="86" text-anchor="start" font-weight="normal" fill="#ff9900" stroke="#ff9900" stroke-width="1.5" stroke-linejoin="round">S22</text>
<text transform="translate(835,1233.3) scale(0.875,1)" font-size="86" text-anchor="start" font-weight="normal" fill="#ff1a75" stroke="#ff1a75" stroke-width="1.5" stroke-linejoin="round" clip-path="url(#c8)">S11</text>
<text transform="translate(120,1172) rotate(-90) scale(0.82,1)" font-weight="normal" fill="#000" stroke="#000" stroke-linejoin="round" clip-path="url(#c9)"><tspan x="0.00" font-size="115" stroke-width="3" textLength="71.37" lengthAdjust="spacingAndGlyphs">S</tspan><tspan x="78.66" font-size="53" stroke-width="2" textLength="58.95" lengthAdjust="spacingAndGlyphs">11</tspan><tspan x="131.71" font-size="115" stroke-width="1.5" textLength="42.16" lengthAdjust="spacingAndGlyphs">,</tspan> <tspan x="202.44" font-size="115" stroke-width="3" textLength="71.37" lengthAdjust="spacingAndGlyphs">S</tspan><tspan x="276.83" font-size="53" stroke-width="2" textLength="55.57" lengthAdjust="spacingAndGlyphs">21</tspan><tspan x="332.93" font-size="115" stroke-width="1.5" textLength="45.28" lengthAdjust="spacingAndGlyphs">,</tspan> <tspan x="403.05" font-size="105.225" stroke-width="3" textLength="134.62" lengthAdjust="spacingAndGlyphs">an</tspan><tspan x="537.68" font-size="115" stroke-width="3" textLength="67.31" lengthAdjust="spacingAndGlyphs">d</tspan> <tspan x="639.02" font-size="115" stroke-width="3" textLength="70.25" lengthAdjust="spacingAndGlyphs">S</tspan><tspan x="709.76" font-size="53" stroke-width="2" textLength="66.93" lengthAdjust="spacingAndGlyphs">22</tspan> <tspan x="806.71" font-size="115" stroke-width="3" textLength="227.85" lengthAdjust="spacingAndGlyphs">(dB)</tspan></text>
</g>

</svg>
</body></html>
